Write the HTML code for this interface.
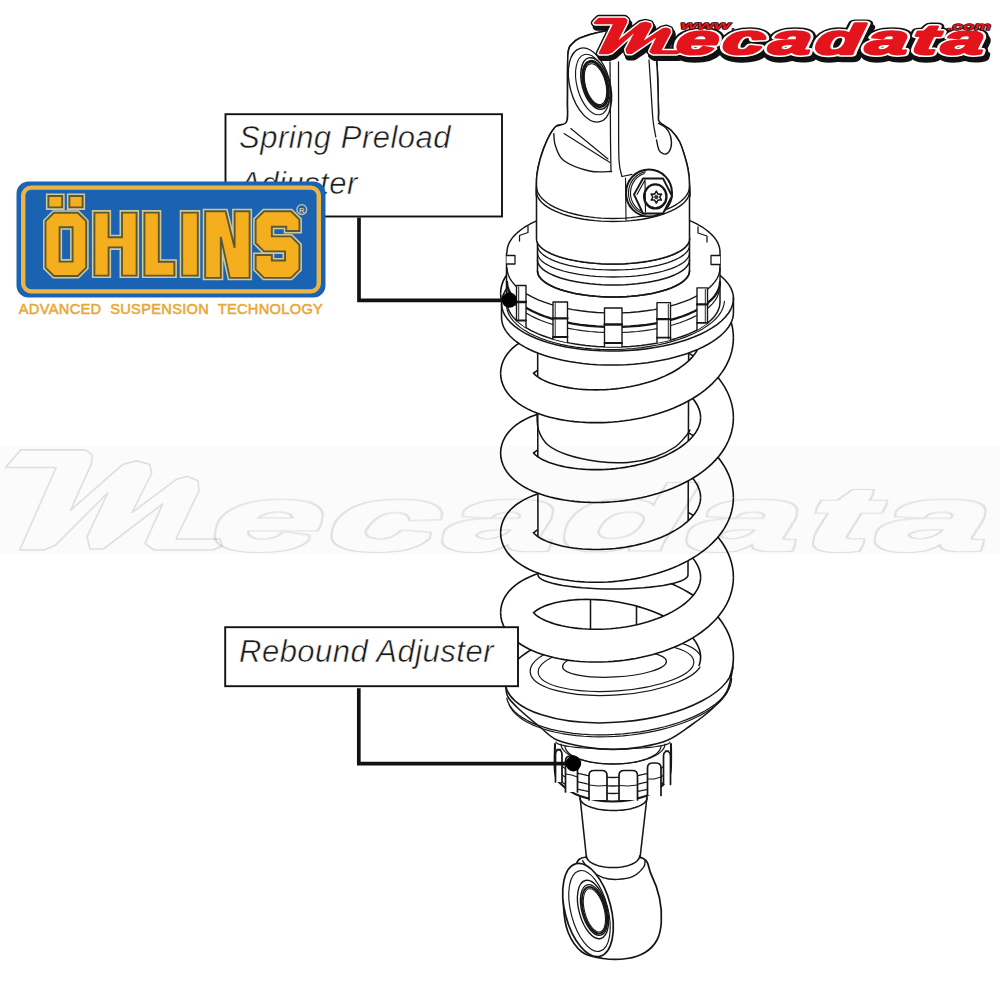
<!DOCTYPE html>
<html><head><meta charset="utf-8"><style>
html,body{margin:0;padding:0;background:#fff;width:1000px;height:1000px;overflow:hidden}
svg{display:block}
</style></head><body>
<svg width="1000" height="1000" viewBox="0 0 1000 1000">
<defs><g id="mecaG" font-family="Liberation Sans, sans-serif" font-weight="bold" font-style="italic">
<path d="M595.05,22.93 L614.73,22.93 L599.95,53.07 L607.67,53.07 L611.73,51.61 L635.61,30.18 L636.52,30.88 L626.67,49.59 L627.52,52.7 L631.69,52.7 L658.38,34.48 L658.84,34.88 L650.55,51.44 L653.02,53.07 L676.45,53.07 L678.86,52.11 L678.65,51.45 L659.62,51.45 L669.74,32.33 L669.46,29.82 L666.04,28.6 L662.12,29.65 L641.54,43.51 L640.99,43 L650.47,25.98 L649.9,23.93 L645.49,22.94 L640.65,24.03 L616.68,42.86 L616.01,42.31 L625.97,22.56 L626.29,20.24 L624.5,18.89 L598.98,18.89 L595.05,22.93 Z"/>
<g transform="translate(675,54.2) skewX(-8) scale(1.80,1)"><text x="0" y="0" font-size="42" letter-spacing="2.4">ecadata</text></g>
</g></defs>
<g id="shock">
<path d="M586.5,857 C575.75,858.5 578.42,861.83 575,866 C571.58,870.17 567.92,875.5 566,882 C564.08,888.5 563.17,896.67 563.5,905 C563.83,913.33 564.92,924.17 568,932 C571.08,939.83 576.17,947.58 582,952 C587.83,956.42 595.5,957.42 603,958.5 C610.5,959.58 620,959.5 627,958.5 C634,957.5 640,955.58 645,952.5 C650,949.42 654.28,945.08 657,940 C659.72,934.92 660.88,929 661.3,922 C661.72,915 661.22,906 659.5,898 C657.78,890 654.33,880.83 651,874 C647.67,867.17 650.25,859.83 639.5,857 C628.75,854.17 597.25,855.5 586.5,857 Z" fill="#fff" stroke="#161616" stroke-width="1.72" stroke-linejoin="round" stroke-linecap="round" />
<path d="M582.6,860.8 C583.83,862.33 586.6,867.2 590,870 C593.4,872.8 598.43,876.03 603,877.6 C607.57,879.17 612.4,879.6 617.4,879.4 C622.4,879.2 628.6,878.5 633,876.4 C637.4,874.3 641.8,869.53 643.8,866.8 C645.8,864.07 644.8,861.13 645,860" fill="none" stroke="#161616" stroke-width="1.38" stroke-linejoin="round" stroke-linecap="round" />
<ellipse cx="588" cy="910" rx="23" ry="47.8" fill="#fff" stroke="#161616" stroke-width="1.72" transform="rotate(-14.6 588 910)"/>
<ellipse cx="589.5" cy="911" rx="18.5" ry="41.5" fill="none" stroke="#161616" stroke-width="1.15" transform="rotate(-14.6 589.5 911)"/>
<ellipse cx="593" cy="909.5" rx="14" ry="30" fill="#fff" stroke="#161616" stroke-width="1.38" transform="rotate(-15 593 909.5)"/>
<ellipse cx="594" cy="910" rx="12.2" ry="26" fill="none" stroke="#161616" stroke-width="1.38" transform="rotate(-15 594 910)"/>
<ellipse cx="594.2" cy="910.2" rx="11.0" ry="24" fill="none" stroke="#161616" stroke-width="1.84" transform="rotate(-15 594.2 910.2)"/>
<ellipse cx="594.4" cy="910.4" rx="9.8" ry="22.3" fill="none" stroke="#161616" stroke-width="1.03" transform="rotate(-15 594.4 910.4)"/>
<path d="M580,797 L647,797 L640,858 L586.5,858 Z" fill="#fff" stroke="none" stroke-width="1.55" stroke-linejoin="round" stroke-linecap="round" />
<path d="M580,797 L586.5,858" fill="none" stroke="#161616" stroke-width="1.55" stroke-linejoin="round" stroke-linecap="round" />
<path d="M647,797 L640,858" fill="none" stroke="#161616" stroke-width="1.55" stroke-linejoin="round" stroke-linecap="round" />
<path d="M647,798 L646.9,798.98 L646.59,799.96 L646.07,800.92 L645.36,801.86 L644.45,802.78 L643.35,803.67 L642.06,804.53 L640.6,805.35 L638.97,806.12 L637.19,806.84 L635.26,807.51 L633.19,808.11 L631,808.66 L628.71,809.14 L626.32,809.55 L623.85,809.89 L621.32,810.15 L618.74,810.35 L616.13,810.46 L613.5,810.5 L610.87,810.46 L608.26,810.35 L605.68,810.15 L603.15,809.89 L600.68,809.55 L598.29,809.14 L596,808.66 L593.81,808.11 L591.74,807.51 L589.81,806.84 L588.03,806.12 L586.4,805.35 L584.94,804.53 L583.65,803.67 L582.55,802.78 L581.64,801.86 L580.93,800.92 L580.41,799.96 L580.1,798.98 L580,798" fill="none" stroke="#161616" stroke-width="1.55" stroke-linejoin="round" stroke-linecap="round" />
<path d="M639.5,856 L639.42,856.91 L639.17,857.81 L638.77,858.71 L638.2,859.58 L637.48,860.44 L636.61,861.27 L635.59,862.06 L634.44,862.82 L633.15,863.53 L631.74,864.2 L630.21,864.82 L628.58,865.38 L626.85,865.89 L625.03,866.34 L623.14,866.72 L621.19,867.03 L619.19,867.28 L617.15,867.46 L615.08,867.56 L613,867.6 L610.92,867.56 L608.85,867.46 L606.81,867.28 L604.81,867.03 L602.86,866.72 L600.97,866.34 L599.15,865.89 L597.42,865.38 L595.79,864.82 L594.26,864.2 L592.85,863.53 L591.56,862.82 L590.41,862.06 L589.39,861.27 L588.52,860.44 L587.8,859.58 L587.23,858.71 L586.83,857.81 L586.58,856.91 L586.5,856" fill="none" stroke="#161616" stroke-width="1.55" stroke-linejoin="round" stroke-linecap="round" />
<path d="M555,744 C555,748.67 554.1,765.42 555,772 C555.9,778.58 556.23,779.5 560.4,783.5 C564.57,787.5 571.32,793 580,796 C588.68,799 601.5,801.5 612.5,801.5 C623.5,801.5 637.33,799 646,796 C654.67,793 660.42,787.5 664.5,783.5 C668.58,779.5 669.42,778.58 670.5,772 C671.58,765.42 670.92,748.67 671,744" fill="#fff" stroke="#161616" stroke-width="2.07" stroke-linejoin="round" stroke-linecap="round" />
<path d="M670.5,757 L670.32,758.61 L669.79,760.21 L668.91,761.79 L667.69,763.33 L666.12,764.85 L664.23,766.31 L662.03,767.71 L659.52,769.05 L656.72,770.31 L653.66,771.5 L650.34,772.59 L646.8,773.58 L643.04,774.48 L639.1,775.27 L635,775.94 L630.77,776.5 L626.42,776.93 L621.99,777.25 L617.51,777.44 L613,777.5 L608.49,777.44 L604.01,777.25 L599.58,776.93 L595.23,776.5 L591,775.94 L586.9,775.27 L582.96,774.48 L579.2,773.58 L575.66,772.59 L572.34,771.5 L569.28,770.31 L566.48,769.05 L563.97,767.71 L561.77,766.31 L559.88,764.85 L558.31,763.33 L557.09,761.79 L556.21,760.21 L555.68,758.61 L555.5,757" fill="none" stroke="#161616" stroke-width="1.26" stroke-linejoin="round" stroke-linecap="round" />
<path d="M670.5,765.5 L670.32,767.11 L669.79,768.71 L668.91,770.29 L667.69,771.83 L666.12,773.35 L664.23,774.81 L662.03,776.21 L659.52,777.55 L656.72,778.81 L653.66,780 L650.34,781.09 L646.8,782.08 L643.04,782.98 L639.1,783.77 L635,784.44 L630.77,785 L626.42,785.43 L621.99,785.75 L617.51,785.94 L613,786 L608.49,785.94 L604.01,785.75 L599.58,785.43 L595.23,785 L591,784.44 L586.9,783.77 L582.96,782.98 L579.2,782.08 L575.66,781.09 L572.34,780 L569.28,778.81 L566.48,777.55 L563.97,776.21 L561.77,774.81 L559.88,773.35 L558.31,771.83 L557.09,770.29 L556.21,768.71 L555.68,767.11 L555.5,765.5" fill="none" stroke="#161616" stroke-width="1.26" stroke-linejoin="round" stroke-linecap="round" />
<path d="M670.28,774.33 L669.75,775.88 L668.91,777.4 L667.76,778.9 L666.31,780.37 L664.57,781.79 L662.54,783.16 L660.24,784.47 L657.69,785.72 L654.88,786.89 L651.85,787.98 L648.6,788.99 L645.15,789.91 L641.53,790.73 L637.75,791.45 L633.84,792.07 L629.81,792.58 L625.69,792.98 L621.5,793.27 L617.26,793.44 L613,793.5 L608.74,793.44 L604.5,793.27 L600.31,792.98 L596.19,792.58 L592.16,792.07 L588.25,791.45 L584.47,790.73 L580.85,789.91 L577.4,788.99 L574.15,787.98 L571.12,786.89 L568.31,785.72 L565.76,784.47 L563.46,783.16 L561.43,781.79 L559.69,780.37 L558.24,778.9 L557.09,777.4 L556.25,775.88 L555.72,774.33" fill="none" stroke="#161616" stroke-width="1.26" stroke-linejoin="round" stroke-linecap="round" />
<path d="M589,800 L589,775.5 Q589,770.5 594,770.5 L602,770.5 Q607,770.5 607,775.5 L607,800 Z" fill="#fff" stroke="none" stroke-width="1.55" stroke-linejoin="round" stroke-linecap="round" /><path d="M589,800 L589,775.5 Q589,770.5 594,770.5 L602,770.5 Q607,770.5 607,775.5 L607,800" fill="none" stroke="#161616" stroke-width="1.72" stroke-linejoin="round" stroke-linecap="round" /><path d="M589,785 L598,786 L607,785.5" fill="none" stroke="#161616" stroke-width="1.15" stroke-linejoin="round" stroke-linecap="round" />
<path d="M619,800 L619,775.5 Q619,770.5 624,770.5 L632.5,770.5 Q637.5,770.5 637.5,775.5 L637.5,800 Z" fill="#fff" stroke="none" stroke-width="1.55" stroke-linejoin="round" stroke-linecap="round" /><path d="M619,800 L619,775.5 Q619,770.5 624,770.5 L632.5,770.5 Q637.5,770.5 637.5,775.5 L637.5,800" fill="none" stroke="#161616" stroke-width="1.72" stroke-linejoin="round" stroke-linecap="round" /><path d="M619,785.5 L628.25,786 L637.5,785" fill="none" stroke="#161616" stroke-width="1.15" stroke-linejoin="round" stroke-linecap="round" />
<path d="M647.5,795.5 L647.5,768 Q647.5,763 652.5,763 L656,763 Q661,763 661,768 L661,795.5 Z" fill="#fff" stroke="none" stroke-width="1.55" stroke-linejoin="round" stroke-linecap="round" /><path d="M647.5,795.5 L647.5,768 Q647.5,763 652.5,763 L656,763 Q661,763 661,768 L661,795.5" fill="none" stroke="#161616" stroke-width="1.72" stroke-linejoin="round" stroke-linecap="round" /><path d="M647.5,779 L654.25,779 L661,777" fill="none" stroke="#161616" stroke-width="1.15" stroke-linejoin="round" stroke-linecap="round" />
<path d="M663.5,784.5 L663.5,756 Q663.5,751 668.5,751 L665.5,751 Q670.5,751 670.5,756 L670.5,784.5 Z" fill="#fff" stroke="none" stroke-width="1.55" stroke-linejoin="round" stroke-linecap="round" /><path d="M663.5,784.5 L663.5,756 Q663.5,751 668.5,751 L665.5,751 Q670.5,751 670.5,756 L670.5,784.5" fill="none" stroke="#161616" stroke-width="1.72" stroke-linejoin="round" stroke-linecap="round" />
<path d="M555.5,782 L555.5,754.5 Q555.5,749.5 560.5,749.5 L557,749.5 Q562,749.5 562,754.5 L562,782 Z" fill="#fff" stroke="none" stroke-width="1.55" stroke-linejoin="round" stroke-linecap="round" /><path d="M555.5,782 L555.5,754.5 Q555.5,749.5 560.5,749.5 L557,749.5 Q562,749.5 562,754.5 L562,782" fill="none" stroke="#161616" stroke-width="1.72" stroke-linejoin="round" stroke-linecap="round" />
<path d="M565.5,792 L565.5,761 Q565.5,756 570.5,756 L572.5,756 Q577.5,756 577.5,761 L577.5,792 Z" fill="#fff" stroke="none" stroke-width="1.55" stroke-linejoin="round" stroke-linecap="round" /><path d="M565.5,792 L565.5,761 Q565.5,756 570.5,756 L572.5,756 Q577.5,756 577.5,761 L577.5,792" fill="none" stroke="#161616" stroke-width="1.72" stroke-linejoin="round" stroke-linecap="round" /><path d="M565.5,774 L571.5,775 L577.5,777" fill="none" stroke="#161616" stroke-width="1.15" stroke-linejoin="round" stroke-linecap="round" />
<path d="M661,746 L660.85,747.41 L660.41,748.82 L659.67,750.2 L658.65,751.56 L657.35,752.89 L655.77,754.17 L653.93,755.4 L651.83,756.58 L649.5,757.69 L646.94,758.73 L644.17,759.69 L641.21,760.56 L638.08,761.35 L634.79,762.04 L631.37,762.63 L627.83,763.12 L624.21,763.5 L620.51,763.78 L616.77,763.94 L613,764 L609.23,763.94 L605.49,763.78 L601.79,763.5 L598.17,763.12 L594.63,762.63 L591.21,762.04 L587.92,761.35 L584.79,760.56 L581.83,759.69 L579.06,758.73 L576.5,757.69 L574.17,756.58 L572.07,755.4 L570.23,754.17 L568.65,752.89 L567.35,751.56 L566.33,750.2 L565.59,748.82 L565.15,747.41 L565,746" fill="none" stroke="#161616" stroke-width="1.26" stroke-linejoin="round" stroke-linecap="round" />
<path d="M665,744 L664.84,745.57 L664.36,747.13 L663.56,748.67 L662.45,750.18 L661.04,751.65 L659.33,753.08 L657.34,754.45 L655.07,755.76 L652.54,756.99 L649.77,758.14 L646.77,759.21 L643.56,760.18 L640.17,761.05 L636.61,761.82 L632.9,762.48 L629.07,763.02 L625.14,763.45 L621.13,763.75 L617.08,763.94 L613,764 L608.92,763.94 L604.87,763.75 L600.86,763.45 L596.93,763.02 L593.1,762.48 L589.39,761.82 L585.83,761.05 L582.44,760.18 L579.23,759.21 L576.23,758.14 L573.46,756.99 L570.93,755.76 L568.66,754.45 L566.67,753.08 L564.96,751.65 L563.55,750.18 L562.44,748.67 L561.64,747.13 L561.16,745.57 L561,744" fill="none" stroke="#161616" stroke-width="1.15" stroke-linejoin="round" stroke-linecap="round" />
<path d="M505.5,684 C505.92,686.17 505.58,692.67 508,697 C510.42,701.33 514.67,705 520,710 C525.33,715 533.83,722 540,727 C546.17,732 549.5,736.67 557,740 C564.5,743.33 575.67,745.42 585,747 C594.33,748.58 603.67,749.5 613,749.5 C622.33,749.5 631.83,748.58 641,747 C650.17,745.42 659.83,743.5 668,740 C676.17,736.5 682.67,731.17 690,726 C697.33,720.83 705.83,714.83 712,709 C718.17,703.17 723.5,698 727,691 C730.5,684 732,671 733,667" fill="#fff" stroke="#161616" stroke-width="1.55" stroke-linejoin="round" stroke-linecap="round" />
<path d="M670,742 L669.82,742.55 L669.3,743.1 L668.43,743.63 L667.21,744.16 L665.66,744.68 L663.79,745.18 L661.6,745.66 L659.11,746.11 L656.34,746.55 L653.31,746.95 L650.02,747.32 L646.5,747.66 L642.78,747.97 L638.88,748.24 L634.81,748.47 L630.61,748.66 L626.31,748.81 L621.92,748.91 L617.47,748.98 L613,749 L608.53,748.98 L604.08,748.91 L599.69,748.81 L595.39,748.66 L591.19,748.47 L587.12,748.24 L583.22,747.97 L579.5,747.66 L575.98,747.32 L572.69,746.95 L569.66,746.55 L566.89,746.11 L564.4,745.66 L562.21,745.18 L560.34,744.68 L558.79,744.16 L557.57,743.63 L556.7,743.1 L556.18,742.55 L556,742" fill="none" stroke="#161616" stroke-width="1.15" stroke-linejoin="round" stroke-linecap="round" />
<path d="M731.63,678.67 L731.18,682.35 L730.08,686.05 L728.34,689.76 L725.97,693.44 L722.98,697.08 L719.4,700.65 L715.23,704.14 L710.51,707.53 L705.27,710.79 L699.52,713.91 L693.32,716.86 L686.68,719.64 L679.66,722.23 L672.28,724.61 L664.6,726.76 L656.66,728.68 L648.49,730.36 L640.16,731.78 L631.71,732.93 L623.18,733.82 L614.63,734.43 L606.11,734.76 L597.66,734.81 L589.33,734.57 L581.17,734.06 L573.23,733.27 L565.56,732.21 L558.19,730.89 L551.17,729.3 L544.55,727.46 L538.35,725.39 L532.62,723.09 L527.38,720.57 L522.67,717.86 L518.52,714.96 L514.95,711.9 L511.97,708.69 L509.62,705.34 L507.89,701.88 L506.8,698.34" fill="none" stroke="#161616" stroke-width="1.26" stroke-linejoin="round" stroke-linecap="round" />
<path d="M730.06,685.42 L728.96,688.87 L727.3,692.33 L725.08,695.76 L722.32,699.16 L719.03,702.5 L715.23,705.77 L710.93,708.95 L706.17,712.03 L700.95,714.99 L695.32,717.81 L689.3,720.48 L682.92,722.99 L676.21,725.32 L669.21,727.46 L661.95,729.4 L654.47,731.14 L646.81,732.65 L639.01,733.94 L631.11,735 L623.14,735.82 L615.15,736.4 L607.18,736.73 L599.28,736.81 L591.47,736.65 L583.8,736.24 L576.32,735.59 L569.05,734.69 L562.04,733.56 L555.32,732.2 L548.93,730.62 L542.89,728.82 L537.24,726.81 L532.02,724.61 L527.23,722.22 L522.92,719.66 L519.1,716.94 L515.79,714.07 L513.01,711.08 L510.77,707.96 L509.09,704.75" fill="none" stroke="#161616" stroke-width="1.15" stroke-linejoin="round" stroke-linecap="round" />
<ellipse cx="619" cy="674" rx="114" ry="48" fill="#fff" stroke="#161616" stroke-width="1.55" transform="rotate(-5 619 674)"/>
<ellipse cx="616" cy="666" rx="86" ry="29" fill="none" stroke="#161616" stroke-width="1.26" transform="rotate(-4 616 666)"/>
<ellipse cx="616" cy="667" rx="78" ry="24" fill="none" stroke="#161616" stroke-width="1.15" transform="rotate(-4 616 667)"/>
<ellipse cx="614.5" cy="664" rx="52" ry="13" fill="none" stroke="#161616" stroke-width="1.26" transform="rotate(-3 614.5 664)"/>
<path d="M590.5,560 L590.5,632 L636.5,632 L636.5,560" fill="#fff" stroke="#161616" stroke-width="1.55" stroke-linejoin="round" stroke-linecap="round" /><path d="M636.5,585 L636.43,585.59 L636.22,586.17 L635.86,586.75 L635.37,587.32 L634.75,587.87 L633.99,588.4 L633.11,588.92 L632.11,589.41 L630.99,589.87 L629.76,590.3 L628.44,590.7 L627.02,591.07 L625.52,591.39 L623.94,591.68 L622.3,591.93 L620.61,592.13 L618.87,592.29 L617.1,592.41 L615.3,592.48 L613.5,592.5 L611.7,592.48 L609.9,592.41 L608.13,592.29 L606.39,592.13 L604.7,591.93 L603.06,591.68 L601.48,591.39 L599.98,591.07 L598.56,590.7 L597.24,590.3 L596.01,589.87 L594.89,589.41 L593.89,588.92 L593.01,588.4 L592.25,587.87 L591.63,587.32 L591.14,586.75 L590.78,586.17 L590.57,585.59 L590.5,585" fill="none" stroke="#161616" stroke-width="1.38" stroke-linejoin="round" stroke-linecap="round" />
<path d="M533.4,293.45 L533.37,293.84 L533.31,294.14 L533.27,294.26 L533.32,294.16 L533.54,293.83 L533.99,293.29 L534.71,292.58 L535.73,291.73 L537.04,290.78 L538.65,289.77 L540.56,288.73 L542.75,287.69 L545.22,286.67 L547.94,285.68 L550.91,284.75 L554.11,283.87 L557.53,283.07 L561.14,282.36 L564.94,281.73 L568.91,281.21 L573.03,280.79 L577.3,280.47 L581.69,280.27 L586.18,280.19 L590.77,280.23 L595.44,280.39 L600.17,280.67 L604.95,281.08 L609.75,281.61 L614.58,282.27 L619.4,283.05 L624.2,283.96 L628.97,284.99 L633.7,286.14 L638.36,287.41 L642.94,288.8 L647.43,290.29 L651.82,291.89 L656.08,293.6 L660.2,295.39 L664.18,297.28 L667.99,299.26 L671.62,301.3 L675.07,303.42 L678.32,305.59 L681.36,307.81 L684.19,310.07 L686.79,312.35 L689.16,314.64 L691.29,316.94 L693.19,319.22 L694.86,321.48 L696.29,323.7 L697.5,325.88 L698.49,328 L699.27,330.07 L699.87,332.08 L700.28,334.04 L700.52,335.96 L700.6,337.85 L733.4,337.85 L733.21,333.21 L732.63,328.61 L731.67,324.06 L730.36,319.59 L728.7,315.22 L726.71,310.97 L724.43,306.84 L721.85,302.85 L719.01,298.98 L715.91,295.26 L712.57,291.67 L709.01,288.22 L705.24,284.91 L701.26,281.74 L697.1,278.7 L692.75,275.79 L688.24,273.02 L683.57,270.39 L678.75,267.9 L673.8,265.55 L668.72,263.33 L663.53,261.25 L658.24,259.32 L652.86,257.53 L647.4,255.88 L641.88,254.38 L636.31,253.02 L630.71,251.81 L625.07,250.75 L619.42,249.83 L613.78,249.06 L608.15,248.43 L602.54,247.96 L596.98,247.62 L591.46,247.44 L586.01,247.39 L580.64,247.49 L575.36,247.73 L570.17,248.11 L565.09,248.63 L560.13,249.29 L555.3,250.08 L550.61,251.01 L546.06,252.08 L541.67,253.28 L537.43,254.62 L533.35,256.09 L529.44,257.72 L525.7,259.49 L522.14,261.43 L518.76,263.55 L515.56,265.85 L512.57,268.38 L509.79,271.15 L507.27,274.2 L505.05,277.53 L503.19,281.17 L501.79,285.08 L500.9,289.21 L500.6,293.45 Z" fill="#fff" stroke="none"/><path d="M533.4,293.45 L533.37,293.84 L533.31,294.14 L533.27,294.26 L533.32,294.16 L533.54,293.83 L533.99,293.29 L534.71,292.58 L535.73,291.73 L537.04,290.78 L538.65,289.77 L540.56,288.73 L542.75,287.69 L545.22,286.67 L547.94,285.68 L550.91,284.75 L554.11,283.87 L557.53,283.07 L561.14,282.36 L564.94,281.73 L568.91,281.21 L573.03,280.79 L577.3,280.47 L581.69,280.27 L586.18,280.19 L590.77,280.23 L595.44,280.39 L600.17,280.67 L604.95,281.08 L609.75,281.61 L614.58,282.27 L619.4,283.05 L624.2,283.96 L628.97,284.99 L633.7,286.14 L638.36,287.41 L642.94,288.8 L647.43,290.29 L651.82,291.89 L656.08,293.6 L660.2,295.39 L664.18,297.28 L667.99,299.26 L671.62,301.3 L675.07,303.42 L678.32,305.59 L681.36,307.81 L684.19,310.07 L686.79,312.35 L689.16,314.64 L691.29,316.94 L693.19,319.22 L694.86,321.48 L696.29,323.7 L697.5,325.88 L698.49,328 L699.27,330.07 L699.87,332.08 L700.28,334.04 L700.52,335.96 L700.6,337.85 M500.6,293.45 L500.9,289.21 L501.79,285.08 L503.19,281.17 L505.05,277.53 L507.27,274.2 L509.79,271.15 L512.57,268.38 L515.56,265.85 L518.76,263.55 L522.14,261.43 L525.7,259.49 L529.44,257.72 L533.35,256.09 L537.43,254.62 L541.67,253.28 L546.06,252.08 L550.61,251.01 L555.3,250.08 L560.13,249.29 L565.09,248.63 L570.17,248.11 L575.36,247.73 L580.64,247.49 L586.01,247.39 L591.46,247.44 L596.98,247.62 L602.54,247.96 L608.15,248.43 L613.78,249.06 L619.42,249.83 L625.07,250.75 L630.71,251.81 L636.31,253.02 L641.88,254.38 L647.4,255.88 L652.86,257.53 L658.24,259.32 L663.53,261.25 L668.72,263.33 L673.8,265.55 L678.75,267.9 L683.57,270.39 L688.24,273.02 L692.75,275.79 L697.1,278.7 L701.26,281.74 L705.24,284.91 L709.01,288.22 L712.57,291.67 L715.91,295.26 L719.01,298.98 L721.85,302.85 L724.43,306.84 L726.71,310.97 L728.7,315.22 L730.36,319.59 L731.67,324.06 L732.63,328.61 L733.21,333.21 L733.4,337.85" fill="none" stroke="#111" stroke-width="1.6"/>
<path d="M533.4,373.25 L533.37,373.64 L533.31,373.94 L533.27,374.06 L533.32,373.96 L533.54,373.63 L533.99,373.09 L534.71,372.38 L535.73,371.53 L537.04,370.58 L538.65,369.57 L540.56,368.53 L542.75,367.49 L545.22,366.47 L547.94,365.48 L550.91,364.55 L554.11,363.67 L557.53,362.87 L561.14,362.16 L564.94,361.53 L568.91,361.01 L573.03,360.59 L577.3,360.27 L581.69,360.07 L586.18,359.99 L590.77,360.03 L595.44,360.19 L600.17,360.47 L604.95,360.88 L609.75,361.41 L614.58,362.07 L619.4,362.85 L624.2,363.76 L628.97,364.79 L633.7,365.94 L638.36,367.21 L642.94,368.6 L647.43,370.09 L651.82,371.69 L656.08,373.4 L660.2,375.19 L664.18,377.08 L667.99,379.06 L671.62,381.1 L675.07,383.22 L678.32,385.39 L681.36,387.61 L684.19,389.87 L686.79,392.15 L689.16,394.44 L691.29,396.74 L693.19,399.02 L694.86,401.28 L696.29,403.5 L697.5,405.68 L698.49,407.8 L699.27,409.87 L699.87,411.88 L700.28,413.84 L700.52,415.76 L700.6,417.65 L733.4,417.65 L733.21,413.01 L732.63,408.41 L731.67,403.86 L730.36,399.39 L728.7,395.02 L726.71,390.77 L724.43,386.64 L721.85,382.65 L719.01,378.78 L715.91,375.06 L712.57,371.47 L709.01,368.02 L705.24,364.71 L701.26,361.54 L697.1,358.5 L692.75,355.59 L688.24,352.82 L683.57,350.19 L678.75,347.7 L673.8,345.35 L668.72,343.13 L663.53,341.05 L658.24,339.12 L652.86,337.33 L647.4,335.68 L641.88,334.18 L636.31,332.82 L630.71,331.61 L625.07,330.55 L619.42,329.63 L613.78,328.86 L608.15,328.23 L602.54,327.76 L596.98,327.42 L591.46,327.24 L586.01,327.19 L580.64,327.29 L575.36,327.53 L570.17,327.91 L565.09,328.43 L560.13,329.09 L555.3,329.88 L550.61,330.81 L546.06,331.88 L541.67,333.08 L537.43,334.42 L533.35,335.89 L529.44,337.52 L525.7,339.29 L522.14,341.23 L518.76,343.35 L515.56,345.65 L512.57,348.18 L509.79,350.95 L507.27,354 L505.05,357.33 L503.19,360.97 L501.79,364.88 L500.9,369.01 L500.6,373.25 Z" fill="#fff" stroke="none"/><path d="M533.4,373.25 L533.37,373.64 L533.31,373.94 L533.27,374.06 L533.32,373.96 L533.54,373.63 L533.99,373.09 L534.71,372.38 L535.73,371.53 L537.04,370.58 L538.65,369.57 L540.56,368.53 L542.75,367.49 L545.22,366.47 L547.94,365.48 L550.91,364.55 L554.11,363.67 L557.53,362.87 L561.14,362.16 L564.94,361.53 L568.91,361.01 L573.03,360.59 L577.3,360.27 L581.69,360.07 L586.18,359.99 L590.77,360.03 L595.44,360.19 L600.17,360.47 L604.95,360.88 L609.75,361.41 L614.58,362.07 L619.4,362.85 L624.2,363.76 L628.97,364.79 L633.7,365.94 L638.36,367.21 L642.94,368.6 L647.43,370.09 L651.82,371.69 L656.08,373.4 L660.2,375.19 L664.18,377.08 L667.99,379.06 L671.62,381.1 L675.07,383.22 L678.32,385.39 L681.36,387.61 L684.19,389.87 L686.79,392.15 L689.16,394.44 L691.29,396.74 L693.19,399.02 L694.86,401.28 L696.29,403.5 L697.5,405.68 L698.49,407.8 L699.27,409.87 L699.87,411.88 L700.28,413.84 L700.52,415.76 L700.6,417.65 M500.6,373.25 L500.9,369.01 L501.79,364.88 L503.19,360.97 L505.05,357.33 L507.27,354 L509.79,350.95 L512.57,348.18 L515.56,345.65 L518.76,343.35 L522.14,341.23 L525.7,339.29 L529.44,337.52 L533.35,335.89 L537.43,334.42 L541.67,333.08 L546.06,331.88 L550.61,330.81 L555.3,329.88 L560.13,329.09 L565.09,328.43 L570.17,327.91 L575.36,327.53 L580.64,327.29 L586.01,327.19 L591.46,327.24 L596.98,327.42 L602.54,327.76 L608.15,328.23 L613.78,328.86 L619.42,329.63 L625.07,330.55 L630.71,331.61 L636.31,332.82 L641.88,334.18 L647.4,335.68 L652.86,337.33 L658.24,339.12 L663.53,341.05 L668.72,343.13 L673.8,345.35 L678.75,347.7 L683.57,350.19 L688.24,352.82 L692.75,355.59 L697.1,358.5 L701.26,361.54 L705.24,364.71 L709.01,368.02 L712.57,371.47 L715.91,375.06 L719.01,378.78 L721.85,382.65 L724.43,386.64 L726.71,390.77 L728.7,395.02 L730.36,399.39 L731.67,403.86 L732.63,408.41 L733.21,413.01 L733.4,417.65" fill="none" stroke="#111" stroke-width="1.6"/>
<path d="M533.4,453.05 L533.37,453.44 L533.31,453.74 L533.27,453.86 L533.32,453.76 L533.54,453.43 L533.99,452.89 L534.71,452.18 L535.73,451.33 L537.04,450.38 L538.65,449.37 L540.56,448.33 L542.75,447.29 L545.22,446.27 L547.94,445.28 L550.91,444.35 L554.11,443.47 L557.53,442.67 L561.14,441.96 L564.94,441.33 L568.91,440.81 L573.03,440.39 L577.3,440.07 L581.69,439.87 L586.18,439.79 L590.77,439.83 L595.44,439.99 L600.17,440.27 L604.95,440.68 L609.75,441.21 L614.58,441.87 L619.4,442.65 L624.2,443.56 L628.97,444.59 L633.7,445.74 L638.36,447.01 L642.94,448.4 L647.43,449.89 L651.82,451.49 L656.08,453.2 L660.2,454.99 L664.18,456.88 L667.99,458.86 L671.62,460.9 L675.07,463.02 L678.32,465.19 L681.36,467.41 L684.19,469.67 L686.79,471.95 L689.16,474.24 L691.29,476.54 L693.19,478.82 L694.86,481.08 L696.29,483.3 L697.5,485.48 L698.49,487.6 L699.27,489.67 L699.87,491.68 L700.28,493.64 L700.52,495.56 L700.6,497.45 L733.4,497.45 L733.21,492.81 L732.63,488.21 L731.67,483.66 L730.36,479.19 L728.7,474.82 L726.71,470.57 L724.43,466.44 L721.85,462.45 L719.01,458.58 L715.91,454.86 L712.57,451.27 L709.01,447.82 L705.24,444.51 L701.26,441.34 L697.1,438.3 L692.75,435.39 L688.24,432.62 L683.57,429.99 L678.75,427.5 L673.8,425.15 L668.72,422.93 L663.53,420.85 L658.24,418.92 L652.86,417.13 L647.4,415.48 L641.88,413.98 L636.31,412.62 L630.71,411.41 L625.07,410.35 L619.42,409.43 L613.78,408.66 L608.15,408.03 L602.54,407.56 L596.98,407.22 L591.46,407.04 L586.01,406.99 L580.64,407.09 L575.36,407.33 L570.17,407.71 L565.09,408.23 L560.13,408.89 L555.3,409.68 L550.61,410.61 L546.06,411.68 L541.67,412.88 L537.43,414.22 L533.35,415.69 L529.44,417.32 L525.7,419.09 L522.14,421.03 L518.76,423.15 L515.56,425.45 L512.57,427.98 L509.79,430.75 L507.27,433.8 L505.05,437.13 L503.19,440.77 L501.79,444.68 L500.9,448.81 L500.6,453.05 Z" fill="#fff" stroke="none"/><path d="M533.4,453.05 L533.37,453.44 L533.31,453.74 L533.27,453.86 L533.32,453.76 L533.54,453.43 L533.99,452.89 L534.71,452.18 L535.73,451.33 L537.04,450.38 L538.65,449.37 L540.56,448.33 L542.75,447.29 L545.22,446.27 L547.94,445.28 L550.91,444.35 L554.11,443.47 L557.53,442.67 L561.14,441.96 L564.94,441.33 L568.91,440.81 L573.03,440.39 L577.3,440.07 L581.69,439.87 L586.18,439.79 L590.77,439.83 L595.44,439.99 L600.17,440.27 L604.95,440.68 L609.75,441.21 L614.58,441.87 L619.4,442.65 L624.2,443.56 L628.97,444.59 L633.7,445.74 L638.36,447.01 L642.94,448.4 L647.43,449.89 L651.82,451.49 L656.08,453.2 L660.2,454.99 L664.18,456.88 L667.99,458.86 L671.62,460.9 L675.07,463.02 L678.32,465.19 L681.36,467.41 L684.19,469.67 L686.79,471.95 L689.16,474.24 L691.29,476.54 L693.19,478.82 L694.86,481.08 L696.29,483.3 L697.5,485.48 L698.49,487.6 L699.27,489.67 L699.87,491.68 L700.28,493.64 L700.52,495.56 L700.6,497.45 M500.6,453.05 L500.9,448.81 L501.79,444.68 L503.19,440.77 L505.05,437.13 L507.27,433.8 L509.79,430.75 L512.57,427.98 L515.56,425.45 L518.76,423.15 L522.14,421.03 L525.7,419.09 L529.44,417.32 L533.35,415.69 L537.43,414.22 L541.67,412.88 L546.06,411.68 L550.61,410.61 L555.3,409.68 L560.13,408.89 L565.09,408.23 L570.17,407.71 L575.36,407.33 L580.64,407.09 L586.01,406.99 L591.46,407.04 L596.98,407.22 L602.54,407.56 L608.15,408.03 L613.78,408.66 L619.42,409.43 L625.07,410.35 L630.71,411.41 L636.31,412.62 L641.88,413.98 L647.4,415.48 L652.86,417.13 L658.24,418.92 L663.53,420.85 L668.72,422.93 L673.8,425.15 L678.75,427.5 L683.57,429.99 L688.24,432.62 L692.75,435.39 L697.1,438.3 L701.26,441.34 L705.24,444.51 L709.01,447.82 L712.57,451.27 L715.91,454.86 L719.01,458.58 L721.85,462.45 L724.43,466.44 L726.71,470.57 L728.7,474.82 L730.36,479.19 L731.67,483.66 L732.63,488.21 L733.21,492.81 L733.4,497.45" fill="none" stroke="#111" stroke-width="1.6"/>
<path d="M533.4,532.85 L533.37,533.24 L533.31,533.54 L533.27,533.66 L533.32,533.56 L533.54,533.23 L533.99,532.69 L534.71,531.98 L535.73,531.13 L537.04,530.18 L538.65,529.17 L540.56,528.13 L542.75,527.09 L545.22,526.07 L547.94,525.08 L550.91,524.15 L554.11,523.27 L557.53,522.47 L561.14,521.76 L564.94,521.13 L568.91,520.61 L573.03,520.19 L577.3,519.87 L581.69,519.67 L586.18,519.59 L590.77,519.63 L595.44,519.79 L600.17,520.07 L604.95,520.48 L609.75,521.01 L614.58,521.67 L619.4,522.45 L624.2,523.36 L628.97,524.39 L633.7,525.54 L638.36,526.81 L642.94,528.2 L647.43,529.69 L651.82,531.29 L656.08,533 L660.2,534.79 L664.18,536.68 L667.99,538.66 L671.62,540.7 L675.07,542.82 L678.32,544.99 L681.36,547.21 L684.19,549.47 L686.79,551.75 L689.16,554.04 L691.29,556.34 L693.19,558.62 L694.86,560.88 L696.29,563.1 L697.5,565.28 L698.49,567.4 L699.27,569.47 L699.87,571.48 L700.28,573.44 L700.52,575.36 L700.6,577.25 L733.4,577.25 L733.21,572.61 L732.63,568.01 L731.67,563.46 L730.36,558.99 L728.7,554.62 L726.71,550.37 L724.43,546.24 L721.85,542.25 L719.01,538.38 L715.91,534.66 L712.57,531.07 L709.01,527.62 L705.24,524.31 L701.26,521.14 L697.1,518.1 L692.75,515.19 L688.24,512.42 L683.57,509.79 L678.75,507.3 L673.8,504.95 L668.72,502.73 L663.53,500.65 L658.24,498.72 L652.86,496.93 L647.4,495.28 L641.88,493.78 L636.31,492.42 L630.71,491.21 L625.07,490.15 L619.42,489.23 L613.78,488.46 L608.15,487.83 L602.54,487.36 L596.98,487.02 L591.46,486.84 L586.01,486.79 L580.64,486.89 L575.36,487.13 L570.17,487.51 L565.09,488.03 L560.13,488.69 L555.3,489.48 L550.61,490.41 L546.06,491.48 L541.67,492.68 L537.43,494.02 L533.35,495.49 L529.44,497.12 L525.7,498.89 L522.14,500.83 L518.76,502.95 L515.56,505.25 L512.57,507.78 L509.79,510.55 L507.27,513.6 L505.05,516.93 L503.19,520.57 L501.79,524.48 L500.9,528.61 L500.6,532.85 Z" fill="#fff" stroke="none"/><path d="M533.4,532.85 L533.37,533.24 L533.31,533.54 L533.27,533.66 L533.32,533.56 L533.54,533.23 L533.99,532.69 L534.71,531.98 L535.73,531.13 L537.04,530.18 L538.65,529.17 L540.56,528.13 L542.75,527.09 L545.22,526.07 L547.94,525.08 L550.91,524.15 L554.11,523.27 L557.53,522.47 L561.14,521.76 L564.94,521.13 L568.91,520.61 L573.03,520.19 L577.3,519.87 L581.69,519.67 L586.18,519.59 L590.77,519.63 L595.44,519.79 L600.17,520.07 L604.95,520.48 L609.75,521.01 L614.58,521.67 L619.4,522.45 L624.2,523.36 L628.97,524.39 L633.7,525.54 L638.36,526.81 L642.94,528.2 L647.43,529.69 L651.82,531.29 L656.08,533 L660.2,534.79 L664.18,536.68 L667.99,538.66 L671.62,540.7 L675.07,542.82 L678.32,544.99 L681.36,547.21 L684.19,549.47 L686.79,551.75 L689.16,554.04 L691.29,556.34 L693.19,558.62 L694.86,560.88 L696.29,563.1 L697.5,565.28 L698.49,567.4 L699.27,569.47 L699.87,571.48 L700.28,573.44 L700.52,575.36 L700.6,577.25 M500.6,532.85 L500.9,528.61 L501.79,524.48 L503.19,520.57 L505.05,516.93 L507.27,513.6 L509.79,510.55 L512.57,507.78 L515.56,505.25 L518.76,502.95 L522.14,500.83 L525.7,498.89 L529.44,497.12 L533.35,495.49 L537.43,494.02 L541.67,492.68 L546.06,491.48 L550.61,490.41 L555.3,489.48 L560.13,488.69 L565.09,488.03 L570.17,487.51 L575.36,487.13 L580.64,486.89 L586.01,486.79 L591.46,486.84 L596.98,487.02 L602.54,487.36 L608.15,487.83 L613.78,488.46 L619.42,489.23 L625.07,490.15 L630.71,491.21 L636.31,492.42 L641.88,493.78 L647.4,495.28 L652.86,496.93 L658.24,498.72 L663.53,500.65 L668.72,502.73 L673.8,504.95 L678.75,507.3 L683.57,509.79 L688.24,512.42 L692.75,515.19 L697.1,518.1 L701.26,521.14 L705.24,524.31 L709.01,527.62 L712.57,531.07 L715.91,534.66 L719.01,538.38 L721.85,542.25 L724.43,546.24 L726.71,550.37 L728.7,554.62 L730.36,558.99 L731.67,563.46 L732.63,568.01 L733.21,572.61 L733.4,577.25" fill="none" stroke="#111" stroke-width="1.6"/>
<path d="M533.4,612.65 L533.37,613.04 L533.31,613.34 L533.27,613.46 L533.32,613.36 L533.54,613.03 L533.99,612.49 L534.71,611.78 L535.73,610.93 L537.04,609.98 L538.65,608.97 L540.56,607.93 L542.75,606.89 L545.22,605.87 L547.94,604.88 L550.91,603.95 L554.11,603.07 L557.53,602.27 L561.14,601.56 L564.94,600.93 L568.91,600.41 L573.03,599.99 L577.3,599.67 L581.69,599.47 L586.18,599.39 L590.77,599.43 L595.44,599.59 L600.17,599.87 L604.95,600.28 L609.75,600.81 L614.58,601.47 L619.4,602.25 L624.2,603.16 L628.97,604.19 L633.7,605.34 L638.36,606.61 L642.94,608 L647.43,609.49 L651.82,611.09 L656.08,612.8 L660.2,614.59 L664.18,616.48 L667.99,618.46 L671.62,620.5 L675.07,622.62 L678.32,624.79 L681.36,627.01 L684.19,629.27 L686.79,631.55 L689.16,633.84 L691.29,636.14 L693.19,638.42 L694.86,640.68 L696.29,642.9 L697.5,645.08 L698.49,647.2 L699.27,649.27 L699.87,651.28 L700.28,653.24 L700.52,655.16 L700.6,657.05 L733.4,657.05 L733.21,652.41 L732.63,647.81 L731.67,643.26 L730.36,638.79 L728.7,634.42 L726.71,630.17 L724.43,626.04 L721.85,622.05 L719.01,618.18 L715.91,614.46 L712.57,610.87 L709.01,607.42 L705.24,604.11 L701.26,600.94 L697.1,597.9 L692.75,594.99 L688.24,592.22 L683.57,589.59 L678.75,587.1 L673.8,584.75 L668.72,582.53 L663.53,580.45 L658.24,578.52 L652.86,576.73 L647.4,575.08 L641.88,573.58 L636.31,572.22 L630.71,571.01 L625.07,569.95 L619.42,569.03 L613.78,568.26 L608.15,567.63 L602.54,567.16 L596.98,566.82 L591.46,566.64 L586.01,566.59 L580.64,566.69 L575.36,566.93 L570.17,567.31 L565.09,567.83 L560.13,568.49 L555.3,569.28 L550.61,570.21 L546.06,571.28 L541.67,572.48 L537.43,573.82 L533.35,575.29 L529.44,576.92 L525.7,578.69 L522.14,580.63 L518.76,582.75 L515.56,585.05 L512.57,587.58 L509.79,590.35 L507.27,593.4 L505.05,596.73 L503.19,600.37 L501.79,604.28 L500.9,608.41 L500.6,612.65 Z" fill="#fff" stroke="none"/><path d="M533.4,612.65 L533.37,613.04 L533.31,613.34 L533.27,613.46 L533.32,613.36 L533.54,613.03 L533.99,612.49 L534.71,611.78 L535.73,610.93 L537.04,609.98 L538.65,608.97 L540.56,607.93 L542.75,606.89 L545.22,605.87 L547.94,604.88 L550.91,603.95 L554.11,603.07 L557.53,602.27 L561.14,601.56 L564.94,600.93 L568.91,600.41 L573.03,599.99 L577.3,599.67 L581.69,599.47 L586.18,599.39 L590.77,599.43 L595.44,599.59 L600.17,599.87 L604.95,600.28 L609.75,600.81 L614.58,601.47 L619.4,602.25 L624.2,603.16 L628.97,604.19 L633.7,605.34 L638.36,606.61 L642.94,608 L647.43,609.49 L651.82,611.09 L656.08,612.8 L660.2,614.59 L664.18,616.48 L667.99,618.46 L671.62,620.5 L675.07,622.62 L678.32,624.79 L681.36,627.01 L684.19,629.27 L686.79,631.55 L689.16,633.84 L691.29,636.14 L693.19,638.42 L694.86,640.68 L696.29,642.9 L697.5,645.08 L698.49,647.2 L699.27,649.27 L699.87,651.28 L700.28,653.24 L700.52,655.16 L700.6,657.05 M500.6,612.65 L500.9,608.41 L501.79,604.28 L503.19,600.37 L505.05,596.73 L507.27,593.4 L509.79,590.35 L512.57,587.58 L515.56,585.05 L518.76,582.75 L522.14,580.63 L525.7,578.69 L529.44,576.92 L533.35,575.29 L537.43,573.82 L541.67,572.48 L546.06,571.28 L550.61,570.21 L555.3,569.28 L560.13,568.49 L565.09,567.83 L570.17,567.31 L575.36,566.93 L580.64,566.69 L586.01,566.59 L591.46,566.64 L596.98,566.82 L602.54,567.16 L608.15,567.63 L613.78,568.26 L619.42,569.03 L625.07,569.95 L630.71,571.01 L636.31,572.22 L641.88,573.58 L647.4,575.08 L652.86,576.73 L658.24,578.52 L663.53,580.45 L668.72,582.53 L673.8,584.75 L678.75,587.1 L683.57,589.59 L688.24,592.22 L692.75,594.99 L697.1,597.9 L701.26,600.94 L705.24,604.11 L709.01,607.42 L712.57,610.87 L715.91,614.46 L719.01,618.18 L721.85,622.05 L724.43,626.04 L726.71,630.17 L728.7,634.42 L730.36,638.79 L731.67,643.26 L732.63,647.81 L733.21,652.41 L733.4,657.05" fill="none" stroke="#111" stroke-width="1.6"/>
<path d="M537.5,232 L538,575 L538,575 L538.41,576.46 L539.64,577.91 L541.67,579.33 L544.48,580.69 L548.05,582 L552.32,583.23 L557.26,584.37 L562.82,585.4 L568.92,586.33 L575.5,587.12 L582.49,587.79 L589.82,588.31 L597.41,588.69 L605.16,588.92 L613,589 L620.84,588.92 L628.59,588.69 L636.18,588.31 L643.51,587.79 L650.5,587.12 L657.08,586.33 L663.18,585.4 L668.74,584.37 L673.68,583.23 L677.95,582 L681.52,580.69 L684.33,579.33 L686.36,577.91 L687.59,576.46 L688,575 L688,575 L689,232" fill="#fff" stroke="#161616" stroke-width="1.55" stroke-linejoin="round" stroke-linecap="round" />
<path d="M537,413 C537.25,415.83 536.67,424.67 538.5,430 C540.33,435.33 543.08,440.83 548,445 C552.92,449.17 559.67,452.25 568,455 C576.33,457.75 588,460.25 598,461.5 C608,462.75 618.5,463.25 628,462.5 C637.5,461.75 647.17,459.58 655,457 C662.83,454.42 669.83,450.5 675,447 C680.17,443.5 683.5,438.83 686,436 C688.5,433.17 689.33,431 690,430" fill="none" stroke="#161616" stroke-width="1.49" stroke-linejoin="round" stroke-linecap="round" />
<path d="M700.6,657.05 L700.57,658.15 L700.49,659.24 L700.36,660.34 L700.17,661.45 L699.92,662.56 L699.61,663.69 L699.24,664.83 L698.81,665.98 L729.25,678.19 L730.2,675.65 L731.04,673.07 L731.75,670.45 L732.34,667.81 L732.8,665.14 L733.13,662.45 L733.33,659.76 L733.4,657.05 Z" fill="#fff" stroke="none"/><path d="M700.6,657.05 L700.57,658.15 L700.49,659.24 L700.36,660.34 L700.17,661.45 L699.92,662.56 L699.61,663.69 L699.24,664.83 L698.81,665.98 M733.4,657.05 L733.33,659.76 L733.13,662.45 L732.8,665.14 L732.34,667.81 L731.75,670.45 L731.04,673.07 L730.2,675.65 L729.25,678.19" fill="none" stroke="#111" stroke-width="1.6"/>
<path d="M700.6,577.25 L700.52,579.13 L700.28,581.02 L699.88,582.92 L699.3,584.86 L698.53,586.84 L697.57,588.87 L696.39,590.93 L695,593.03 L693.37,595.17 L691.51,597.32 L689.42,599.47 L687.09,601.62 L684.53,603.75 L681.75,605.85 L678.74,607.91 L675.53,609.91 L672.11,611.85 L668.5,613.72 L664.72,615.51 L660.77,617.21 L656.67,618.81 L652.43,620.32 L648.07,621.72 L643.59,623 L639.03,624.18 L634.38,625.23 L629.67,626.17 L624.9,626.98 L620.11,627.67 L615.3,628.24 L610.48,628.68 L605.68,629 L600.91,629.19 L596.18,629.26 L591.51,629.21 L586.92,629.04 L582.42,628.75 L578.03,628.36 L573.76,627.85 L569.63,627.24 L565.65,626.54 L561.83,625.74 L558.21,624.86 L554.77,623.9 L551.55,622.87 L548.56,621.79 L545.8,620.67 L543.3,619.52 L541.07,618.36 L539.12,617.21 L537.45,616.1 L536.08,615.04 L535,614.09 L534.21,613.27 L533.7,612.63 L533.41,612.2 L533.31,612 L533.33,612.04 L533.37,612.28 L533.4,612.65 L500.6,612.65 L500.9,616.88 L501.77,620.99 L503.15,624.88 L504.96,628.51 L507.12,631.85 L509.57,634.92 L512.28,637.75 L515.21,640.35 L518.35,642.76 L521.68,644.99 L525.2,647.06 L528.89,648.99 L532.77,650.77 L536.81,652.42 L541.03,653.94 L545.4,655.33 L549.93,656.59 L554.61,657.73 L559.43,658.74 L564.37,659.62 L569.44,660.36 L574.62,660.98 L579.91,661.46 L585.28,661.8 L590.73,662 L596.24,662.06 L601.81,661.98 L607.42,661.75 L613.05,661.38 L618.7,660.86 L624.36,660.2 L630,659.38 L635.62,658.42 L641.2,657.31 L646.74,656.06 L652.21,654.65 L657.61,653.1 L662.92,651.4 L668.13,649.55 L673.23,647.55 L678.21,645.41 L683.05,643.12 L687.75,640.68 L692.3,638.1 L696.68,635.37 L700.88,632.49 L704.9,629.47 L708.71,626.29 L712.31,622.96 L715.69,619.48 L718.83,615.85 L721.71,612.06 L724.32,608.13 L726.64,604.05 L728.65,599.83 L730.33,595.48 L731.66,591.03 L732.62,586.49 L733.21,581.88 L733.4,577.25 Z" fill="#fff" stroke="none"/><path d="M700.6,577.25 L700.52,579.13 L700.28,581.02 L699.88,582.92 L699.3,584.86 L698.53,586.84 L697.57,588.87 L696.39,590.93 L695,593.03 L693.37,595.17 L691.51,597.32 L689.42,599.47 L687.09,601.62 L684.53,603.75 L681.75,605.85 L678.74,607.91 L675.53,609.91 L672.11,611.85 L668.5,613.72 L664.72,615.51 L660.77,617.21 L656.67,618.81 L652.43,620.32 L648.07,621.72 L643.59,623 L639.03,624.18 L634.38,625.23 L629.67,626.17 L624.9,626.98 L620.11,627.67 L615.3,628.24 L610.48,628.68 L605.68,629 L600.91,629.19 L596.18,629.26 L591.51,629.21 L586.92,629.04 L582.42,628.75 L578.03,628.36 L573.76,627.85 L569.63,627.24 L565.65,626.54 L561.83,625.74 L558.21,624.86 L554.77,623.9 L551.55,622.87 L548.56,621.79 L545.8,620.67 L543.3,619.52 L541.07,618.36 L539.12,617.21 L537.45,616.1 L536.08,615.04 L535,614.09 L534.21,613.27 L533.7,612.63 L533.41,612.2 L533.31,612 L533.33,612.04 L533.37,612.28 L533.4,612.65 M733.4,577.25 L733.21,581.88 L732.62,586.49 L731.66,591.03 L730.33,595.48 L728.65,599.83 L726.64,604.05 L724.32,608.13 L721.71,612.06 L718.83,615.85 L715.69,619.48 L712.31,622.96 L708.71,626.29 L704.9,629.47 L700.88,632.49 L696.68,635.37 L692.3,638.1 L687.75,640.68 L683.05,643.12 L678.21,645.41 L673.23,647.55 L668.13,649.55 L662.92,651.4 L657.61,653.1 L652.21,654.65 L646.74,656.06 L641.2,657.31 L635.62,658.42 L630,659.38 L624.36,660.2 L618.7,660.86 L613.05,661.38 L607.42,661.75 L601.81,661.98 L596.24,662.06 L590.73,662 L585.28,661.8 L579.91,661.46 L574.62,660.98 L569.44,660.36 L564.37,659.62 L559.43,658.74 L554.61,657.73 L549.93,656.59 L545.4,655.33 L541.03,653.94 L536.81,652.42 L532.77,650.77 L528.89,648.99 L525.2,647.06 L521.68,644.99 L518.35,642.76 L515.21,640.35 L512.28,637.75 L509.57,634.92 L507.12,631.85 L504.96,628.51 L503.15,624.88 L501.77,620.99 L500.9,616.88 L500.6,612.65" fill="none" stroke="#111" stroke-width="1.6"/>
<path d="M700.6,497.45 L700.52,499.33 L700.28,501.22 L699.88,503.12 L699.3,505.06 L698.53,507.04 L697.57,509.07 L696.39,511.13 L695,513.23 L693.37,515.37 L691.51,517.52 L689.42,519.67 L687.09,521.82 L684.53,523.95 L681.75,526.05 L678.74,528.11 L675.53,530.11 L672.11,532.05 L668.5,533.92 L664.72,535.71 L660.77,537.41 L656.67,539.01 L652.43,540.52 L648.07,541.92 L643.59,543.2 L639.03,544.38 L634.38,545.43 L629.67,546.37 L624.9,547.18 L620.11,547.87 L615.3,548.44 L610.48,548.88 L605.68,549.2 L600.91,549.39 L596.18,549.46 L591.51,549.41 L586.92,549.24 L582.42,548.95 L578.03,548.56 L573.76,548.05 L569.63,547.44 L565.65,546.74 L561.83,545.94 L558.21,545.06 L554.77,544.1 L551.55,543.07 L548.56,541.99 L545.8,540.87 L543.3,539.72 L541.07,538.56 L539.12,537.41 L537.45,536.3 L536.08,535.24 L535,534.29 L534.21,533.47 L533.7,532.83 L533.41,532.4 L533.31,532.2 L533.33,532.24 L533.37,532.48 L533.4,532.85 L500.6,532.85 L500.9,537.08 L501.77,541.19 L503.15,545.08 L504.96,548.71 L507.12,552.05 L509.57,555.12 L512.28,557.95 L515.21,560.55 L518.35,562.96 L521.68,565.19 L525.2,567.26 L528.89,569.19 L532.77,570.97 L536.81,572.62 L541.03,574.14 L545.4,575.53 L549.93,576.79 L554.61,577.93 L559.43,578.94 L564.37,579.82 L569.44,580.56 L574.62,581.18 L579.91,581.66 L585.28,582 L590.73,582.2 L596.24,582.26 L601.81,582.18 L607.42,581.95 L613.05,581.58 L618.7,581.06 L624.36,580.4 L630,579.58 L635.62,578.62 L641.2,577.51 L646.74,576.26 L652.21,574.85 L657.61,573.3 L662.92,571.6 L668.13,569.75 L673.23,567.75 L678.21,565.61 L683.05,563.32 L687.75,560.88 L692.3,558.3 L696.68,555.57 L700.88,552.69 L704.9,549.67 L708.71,546.49 L712.31,543.16 L715.69,539.68 L718.83,536.05 L721.71,532.26 L724.32,528.33 L726.64,524.25 L728.65,520.03 L730.33,515.68 L731.66,511.23 L732.62,506.69 L733.21,502.08 L733.4,497.45 Z" fill="#fff" stroke="none"/><path d="M700.6,497.45 L700.52,499.33 L700.28,501.22 L699.88,503.12 L699.3,505.06 L698.53,507.04 L697.57,509.07 L696.39,511.13 L695,513.23 L693.37,515.37 L691.51,517.52 L689.42,519.67 L687.09,521.82 L684.53,523.95 L681.75,526.05 L678.74,528.11 L675.53,530.11 L672.11,532.05 L668.5,533.92 L664.72,535.71 L660.77,537.41 L656.67,539.01 L652.43,540.52 L648.07,541.92 L643.59,543.2 L639.03,544.38 L634.38,545.43 L629.67,546.37 L624.9,547.18 L620.11,547.87 L615.3,548.44 L610.48,548.88 L605.68,549.2 L600.91,549.39 L596.18,549.46 L591.51,549.41 L586.92,549.24 L582.42,548.95 L578.03,548.56 L573.76,548.05 L569.63,547.44 L565.65,546.74 L561.83,545.94 L558.21,545.06 L554.77,544.1 L551.55,543.07 L548.56,541.99 L545.8,540.87 L543.3,539.72 L541.07,538.56 L539.12,537.41 L537.45,536.3 L536.08,535.24 L535,534.29 L534.21,533.47 L533.7,532.83 L533.41,532.4 L533.31,532.2 L533.33,532.24 L533.37,532.48 L533.4,532.85 M733.4,497.45 L733.21,502.08 L732.62,506.69 L731.66,511.23 L730.33,515.68 L728.65,520.03 L726.64,524.25 L724.32,528.33 L721.71,532.26 L718.83,536.05 L715.69,539.68 L712.31,543.16 L708.71,546.49 L704.9,549.67 L700.88,552.69 L696.68,555.57 L692.3,558.3 L687.75,560.88 L683.05,563.32 L678.21,565.61 L673.23,567.75 L668.13,569.75 L662.92,571.6 L657.61,573.3 L652.21,574.85 L646.74,576.26 L641.2,577.51 L635.62,578.62 L630,579.58 L624.36,580.4 L618.7,581.06 L613.05,581.58 L607.42,581.95 L601.81,582.18 L596.24,582.26 L590.73,582.2 L585.28,582 L579.91,581.66 L574.62,581.18 L569.44,580.56 L564.37,579.82 L559.43,578.94 L554.61,577.93 L549.93,576.79 L545.4,575.53 L541.03,574.14 L536.81,572.62 L532.77,570.97 L528.89,569.19 L525.2,567.26 L521.68,565.19 L518.35,562.96 L515.21,560.55 L512.28,557.95 L509.57,555.12 L507.12,552.05 L504.96,548.71 L503.15,545.08 L501.77,541.19 L500.9,537.08 L500.6,532.85" fill="none" stroke="#111" stroke-width="1.6"/>
<path d="M700.6,417.65 L700.52,419.53 L700.28,421.42 L699.88,423.32 L699.3,425.26 L698.53,427.24 L697.57,429.27 L696.39,431.33 L695,433.43 L693.37,435.57 L691.51,437.72 L689.42,439.87 L687.09,442.02 L684.53,444.15 L681.75,446.25 L678.74,448.31 L675.53,450.31 L672.11,452.25 L668.5,454.12 L664.72,455.91 L660.77,457.61 L656.67,459.21 L652.43,460.72 L648.07,462.12 L643.59,463.4 L639.03,464.58 L634.38,465.63 L629.67,466.57 L624.9,467.38 L620.11,468.07 L615.3,468.64 L610.48,469.08 L605.68,469.4 L600.91,469.59 L596.18,469.66 L591.51,469.61 L586.92,469.44 L582.42,469.15 L578.03,468.76 L573.76,468.25 L569.63,467.64 L565.65,466.94 L561.83,466.14 L558.21,465.26 L554.77,464.3 L551.55,463.27 L548.56,462.19 L545.8,461.07 L543.3,459.92 L541.07,458.76 L539.12,457.61 L537.45,456.5 L536.08,455.44 L535,454.49 L534.21,453.67 L533.7,453.03 L533.41,452.6 L533.31,452.4 L533.33,452.44 L533.37,452.68 L533.4,453.05 L500.6,453.05 L500.9,457.28 L501.77,461.39 L503.15,465.28 L504.96,468.91 L507.12,472.25 L509.57,475.32 L512.28,478.15 L515.21,480.75 L518.35,483.16 L521.68,485.39 L525.2,487.46 L528.89,489.39 L532.77,491.17 L536.81,492.82 L541.03,494.34 L545.4,495.73 L549.93,496.99 L554.61,498.13 L559.43,499.14 L564.37,500.02 L569.44,500.76 L574.62,501.38 L579.91,501.86 L585.28,502.2 L590.73,502.4 L596.24,502.46 L601.81,502.38 L607.42,502.15 L613.05,501.78 L618.7,501.26 L624.36,500.6 L630,499.78 L635.62,498.82 L641.2,497.71 L646.74,496.46 L652.21,495.05 L657.61,493.5 L662.92,491.8 L668.13,489.95 L673.23,487.95 L678.21,485.81 L683.05,483.52 L687.75,481.08 L692.3,478.5 L696.68,475.77 L700.88,472.89 L704.9,469.87 L708.71,466.69 L712.31,463.36 L715.69,459.88 L718.83,456.25 L721.71,452.46 L724.32,448.53 L726.64,444.45 L728.65,440.23 L730.33,435.88 L731.66,431.43 L732.62,426.89 L733.21,422.28 L733.4,417.65 Z" fill="#fff" stroke="none"/><path d="M700.6,417.65 L700.52,419.53 L700.28,421.42 L699.88,423.32 L699.3,425.26 L698.53,427.24 L697.57,429.27 L696.39,431.33 L695,433.43 L693.37,435.57 L691.51,437.72 L689.42,439.87 L687.09,442.02 L684.53,444.15 L681.75,446.25 L678.74,448.31 L675.53,450.31 L672.11,452.25 L668.5,454.12 L664.72,455.91 L660.77,457.61 L656.67,459.21 L652.43,460.72 L648.07,462.12 L643.59,463.4 L639.03,464.58 L634.38,465.63 L629.67,466.57 L624.9,467.38 L620.11,468.07 L615.3,468.64 L610.48,469.08 L605.68,469.4 L600.91,469.59 L596.18,469.66 L591.51,469.61 L586.92,469.44 L582.42,469.15 L578.03,468.76 L573.76,468.25 L569.63,467.64 L565.65,466.94 L561.83,466.14 L558.21,465.26 L554.77,464.3 L551.55,463.27 L548.56,462.19 L545.8,461.07 L543.3,459.92 L541.07,458.76 L539.12,457.61 L537.45,456.5 L536.08,455.44 L535,454.49 L534.21,453.67 L533.7,453.03 L533.41,452.6 L533.31,452.4 L533.33,452.44 L533.37,452.68 L533.4,453.05 M733.4,417.65 L733.21,422.28 L732.62,426.89 L731.66,431.43 L730.33,435.88 L728.65,440.23 L726.64,444.45 L724.32,448.53 L721.71,452.46 L718.83,456.25 L715.69,459.88 L712.31,463.36 L708.71,466.69 L704.9,469.87 L700.88,472.89 L696.68,475.77 L692.3,478.5 L687.75,481.08 L683.05,483.52 L678.21,485.81 L673.23,487.95 L668.13,489.95 L662.92,491.8 L657.61,493.5 L652.21,495.05 L646.74,496.46 L641.2,497.71 L635.62,498.82 L630,499.78 L624.36,500.6 L618.7,501.26 L613.05,501.78 L607.42,502.15 L601.81,502.38 L596.24,502.46 L590.73,502.4 L585.28,502.2 L579.91,501.86 L574.62,501.38 L569.44,500.76 L564.37,500.02 L559.43,499.14 L554.61,498.13 L549.93,496.99 L545.4,495.73 L541.03,494.34 L536.81,492.82 L532.77,491.17 L528.89,489.39 L525.2,487.46 L521.68,485.39 L518.35,483.16 L515.21,480.75 L512.28,478.15 L509.57,475.32 L507.12,472.25 L504.96,468.91 L503.15,465.28 L501.77,461.39 L500.9,457.28 L500.6,453.05" fill="none" stroke="#111" stroke-width="1.6"/>
<path d="M700.6,337.85 L700.52,339.73 L700.28,341.62 L699.88,343.52 L699.3,345.46 L698.53,347.44 L697.57,349.47 L696.39,351.53 L695,353.63 L693.37,355.77 L691.51,357.92 L689.42,360.07 L687.09,362.22 L684.53,364.35 L681.75,366.45 L678.74,368.51 L675.53,370.51 L672.11,372.45 L668.5,374.32 L664.72,376.11 L660.77,377.81 L656.67,379.41 L652.43,380.92 L648.07,382.32 L643.59,383.6 L639.03,384.78 L634.38,385.83 L629.67,386.77 L624.9,387.58 L620.11,388.27 L615.3,388.84 L610.48,389.28 L605.68,389.6 L600.91,389.79 L596.18,389.86 L591.51,389.81 L586.92,389.64 L582.42,389.35 L578.03,388.96 L573.76,388.45 L569.63,387.84 L565.65,387.14 L561.83,386.34 L558.21,385.46 L554.77,384.5 L551.55,383.47 L548.56,382.39 L545.8,381.27 L543.3,380.12 L541.07,378.96 L539.12,377.81 L537.45,376.7 L536.08,375.64 L535,374.69 L534.21,373.87 L533.7,373.23 L533.41,372.8 L533.31,372.6 L533.33,372.64 L533.37,372.88 L533.4,373.25 L500.6,373.25 L500.9,377.48 L501.77,381.59 L503.15,385.48 L504.96,389.11 L507.12,392.45 L509.57,395.52 L512.28,398.35 L515.21,400.95 L518.35,403.36 L521.68,405.59 L525.2,407.66 L528.89,409.59 L532.77,411.37 L536.81,413.02 L541.03,414.54 L545.4,415.93 L549.93,417.19 L554.61,418.33 L559.43,419.34 L564.37,420.22 L569.44,420.96 L574.62,421.58 L579.91,422.06 L585.28,422.4 L590.73,422.6 L596.24,422.66 L601.81,422.58 L607.42,422.35 L613.05,421.98 L618.7,421.46 L624.36,420.8 L630,419.98 L635.62,419.02 L641.2,417.91 L646.74,416.66 L652.21,415.25 L657.61,413.7 L662.92,412 L668.13,410.15 L673.23,408.15 L678.21,406.01 L683.05,403.72 L687.75,401.28 L692.3,398.7 L696.68,395.97 L700.88,393.09 L704.9,390.07 L708.71,386.89 L712.31,383.56 L715.69,380.08 L718.83,376.45 L721.71,372.66 L724.32,368.73 L726.64,364.65 L728.65,360.43 L730.33,356.08 L731.66,351.63 L732.62,347.09 L733.21,342.48 L733.4,337.85 Z" fill="#fff" stroke="none"/><path d="M700.6,337.85 L700.52,339.73 L700.28,341.62 L699.88,343.52 L699.3,345.46 L698.53,347.44 L697.57,349.47 L696.39,351.53 L695,353.63 L693.37,355.77 L691.51,357.92 L689.42,360.07 L687.09,362.22 L684.53,364.35 L681.75,366.45 L678.74,368.51 L675.53,370.51 L672.11,372.45 L668.5,374.32 L664.72,376.11 L660.77,377.81 L656.67,379.41 L652.43,380.92 L648.07,382.32 L643.59,383.6 L639.03,384.78 L634.38,385.83 L629.67,386.77 L624.9,387.58 L620.11,388.27 L615.3,388.84 L610.48,389.28 L605.68,389.6 L600.91,389.79 L596.18,389.86 L591.51,389.81 L586.92,389.64 L582.42,389.35 L578.03,388.96 L573.76,388.45 L569.63,387.84 L565.65,387.14 L561.83,386.34 L558.21,385.46 L554.77,384.5 L551.55,383.47 L548.56,382.39 L545.8,381.27 L543.3,380.12 L541.07,378.96 L539.12,377.81 L537.45,376.7 L536.08,375.64 L535,374.69 L534.21,373.87 L533.7,373.23 L533.41,372.8 L533.31,372.6 L533.33,372.64 L533.37,372.88 L533.4,373.25 M733.4,337.85 L733.21,342.48 L732.62,347.09 L731.66,351.63 L730.33,356.08 L728.65,360.43 L726.64,364.65 L724.32,368.73 L721.71,372.66 L718.83,376.45 L715.69,380.08 L712.31,383.56 L708.71,386.89 L704.9,390.07 L700.88,393.09 L696.68,395.97 L692.3,398.7 L687.75,401.28 L683.05,403.72 L678.21,406.01 L673.23,408.15 L668.13,410.15 L662.92,412 L657.61,413.7 L652.21,415.25 L646.74,416.66 L641.2,417.91 L635.62,419.02 L630,419.98 L624.36,420.8 L618.7,421.46 L613.05,421.98 L607.42,422.35 L601.81,422.58 L596.24,422.66 L590.73,422.6 L585.28,422.4 L579.91,422.06 L574.62,421.58 L569.44,420.96 L564.37,420.22 L559.43,419.34 L554.61,418.33 L549.93,417.19 L545.4,415.93 L541.03,414.54 L536.81,413.02 L532.77,411.37 L528.89,409.59 L525.2,407.66 L521.68,405.59 L518.35,403.36 L515.21,400.95 L512.28,398.35 L509.57,395.52 L507.12,392.45 L504.96,389.11 L503.15,385.48 L501.77,381.59 L500.9,377.48 L500.6,373.25" fill="none" stroke="#111" stroke-width="1.6"/>
<path d="M534.71,294.6 L534.11,293.95 L533.7,293.43 L533.45,293.05 L533.33,292.84 L533.31,292.79 L533.34,292.9 L533.38,293.14 L533.4,293.45 L500.6,293.45 L500.81,296.98 L501.42,300.44 L502.4,303.77 L503.71,306.92 L505.29,309.88 L507.12,312.65 L509.15,315.23 L511.35,317.63 Z" fill="#fff" stroke="none"/><path d="M534.71,294.6 L534.11,293.95 L533.7,293.43 L533.45,293.05 L533.33,292.84 L533.31,292.79 L533.34,292.9 L533.38,293.14 L533.4,293.45 M511.35,317.63 L509.15,315.23 L507.12,312.65 L505.29,309.88 L503.71,306.92 L502.4,303.77 L501.42,300.44 L500.81,296.98 L500.6,293.45" fill="none" stroke="#111" stroke-width="1.6"/>
<path d="M733.46,311.96 L733.31,315.11 L732.71,318.25 L731.65,321.38 L730.14,324.49 L728.19,327.56 L725.8,330.58 L722.98,333.53 L719.75,336.42 L716.11,339.22 L712.08,341.92 L707.68,344.52 L702.93,347 L697.83,349.36 L692.42,351.58 L686.72,353.65 L680.74,355.57 L674.51,357.34 L668.06,358.93 L661.4,360.36 L654.58,361.6 L647.61,362.66 L640.51,363.53 L633.33,364.21 L626.09,364.69 L618.81,364.98 L611.53,365.07 L604.26,364.97 L597.06,364.67 L589.93,364.17 L582.91,363.47 L576.03,362.59 L569.31,361.52 L562.78,360.26 L556.47,358.83 L550.4,357.22 L544.59,355.45 L539.07,353.51 L533.86,351.43 L528.99,349.2 L524.46,346.84 L520.29,344.35 L516.51,341.74 L513.13,339.03 L510.16,336.22 L507.62,333.33 L505.51,330.37 L503.84,327.35 L502.62,324.28 L501.85,321.17 L501.54,318.04 L501.54,304.04 L501.69,300.89 L502.29,297.75 L503.35,294.62 L504.86,291.51 L506.81,288.44 L509.2,285.42 L512.02,282.47 L515.25,279.58 L518.89,276.78 L522.92,274.08 L527.32,271.48 L532.07,269 L537.17,266.64 L542.58,264.42 L548.28,262.35 L554.26,260.43 L560.49,258.66 L566.94,257.07 L573.6,255.64 L580.42,254.4 L587.39,253.34 L594.49,252.47 L601.67,251.79 L608.91,251.31 L616.19,251.02 L623.47,250.93 L630.74,251.03 L637.94,251.33 L645.07,251.83 L652.09,252.53 L658.97,253.41 L665.69,254.48 L672.22,255.74 L678.53,257.17 L684.6,258.78 L690.41,260.55 L695.93,262.49 L701.14,264.57 L706.01,266.8 L710.54,269.16 L714.71,271.65 L718.49,274.26 L721.87,276.97 L724.84,279.78 L727.38,282.67 L729.49,285.63 L731.16,288.65 L732.38,291.72 L733.15,294.83 L733.46,297.96 Z" fill="#fff" stroke="#161616" stroke-width="1.55" stroke-linejoin="round" stroke-linecap="round" />
<path d="M733.46,297.96 L733.21,301.89 L732.24,305.82 L730.56,309.72 L728.19,313.56 L725.13,317.32 L721.42,320.99 L717.06,324.53 L712.08,327.92 L706.53,331.15 L700.42,334.2 L693.81,337.04 L686.72,339.65 L679.21,342.03 L671.31,344.16 L663.09,346.02 L654.58,347.6 L645.84,348.89 L636.93,349.89 L627.9,350.59 L618.81,350.98 L609.71,351.07 L600.65,350.84 L591.7,350.31 L582.91,349.47 L574.33,348.34 L566.02,346.91 L558.03,345.2 L550.4,343.22 L543.19,340.98 L536.43,338.49 L530.17,335.77 L524.46,332.84 L519.31,329.71 L514.77,326.4 L510.87,322.93 L507.62,319.33 L505.05,315.62 L503.17,311.82 L502,307.95 L501.54,304.04" fill="none" stroke="#161616" stroke-width="1.55" stroke-linejoin="round" stroke-linecap="round" />
<path d="M724.44,301.29 L723.92,304.9 L722.76,308.5 L720.97,312.07 L718.56,315.57 L715.54,319 L711.93,322.34 L707.76,325.55 L703.04,328.63 L697.8,331.56 L692.08,334.32 L685.9,336.88 L679.31,339.25 L672.35,341.4 L665.05,343.32 L657.46,344.99 L649.62,346.42 L641.58,347.59 L633.39,348.49 L625.09,349.13 L616.73,349.48 L608.37,349.56 L600.05,349.37 L591.82,348.89 L583.73,348.15 L575.82,347.13 L568.15,345.85 L560.76,344.32 L553.7,342.54 L546.99,340.52 L540.69,338.28 L534.83,335.83 L529.45,333.18 L524.58,330.35 L520.24,327.36 L516.46,324.22 L513.26,320.95 L510.67,317.57 L508.7,314.11 L507.35,310.57 L506.65,306.99" fill="none" stroke="#161616" stroke-width="1.15" stroke-linejoin="round" stroke-linecap="round" />
<path d="M720,302 L719.85,304.36 L719.42,306.7 L718.69,309.04 L717.67,311.36 L716.37,313.65 L714.79,315.91 L712.93,318.13 L710.79,320.3 L708.39,322.43 L705.73,324.5 L702.82,326.51 L699.66,328.45 L696.27,330.32 L692.64,332.11 L688.81,333.82 L684.76,335.44 L680.52,336.97 L676.1,338.41 L671.5,339.74 L666.75,340.97 L661.85,342.1 L656.82,343.11 L651.67,344.01 L646.41,344.8 L641.06,345.47 L635.64,346.02 L630.16,346.45 L624.63,346.75 L619.07,346.94 L613.5,347 L607.93,346.94 L602.37,346.75 L596.84,346.45 L591.36,346.02 L585.94,345.47 L580.59,344.8 L575.33,344.01 L570.18,343.11 L565.15,342.1 L560.25,340.97 L555.5,339.74 L550.9,338.41 L546.48,336.97 L542.24,335.44 L538.19,333.82 L534.36,332.11 L530.73,330.32 L527.34,328.45 L524.18,326.51 L521.27,324.5 L518.61,322.43 L516.21,320.3 L514.07,318.13 L512.21,315.91 L510.63,313.65 L509.33,311.36 L508.31,309.04 L507.58,306.7 L507.15,304.36 L507,302 L506.5,302 L506.5,283 L506.5,254 L507,252 L507.15,249.64 L507.58,247.3 L508.31,244.96 L509.33,242.64 L510.63,240.35 L512.21,238.09 L514.07,235.87 L516.21,233.7 L518.61,231.57 L521.27,229.5 L524.18,227.49 L527.34,225.55 L530.73,223.68 L534.36,221.89 L538.19,220.18 L542.24,218.56 L546.48,217.03 L550.9,215.59 L555.5,214.26 L560.25,213.03 L565.15,211.9 L570.18,210.89 L575.33,209.99 L580.59,209.2 L585.94,208.53 L591.36,207.98 L596.84,207.55 L602.37,207.25 L607.93,207.06 L613.5,207 L619.07,207.06 L624.63,207.25 L630.16,207.55 L635.64,207.98 L641.06,208.53 L646.41,209.2 L651.67,209.99 L656.82,210.89 L661.85,211.9 L666.75,213.03 L671.5,214.26 L676.1,215.59 L680.52,217.03 L684.76,218.56 L688.81,220.18 L692.64,221.89 L696.27,223.68 L699.66,225.55 L702.82,227.49 L705.73,229.5 L708.39,231.57 L710.79,233.7 L712.93,235.87 L714.79,238.09 L716.37,240.35 L717.67,242.64 L718.69,244.96 L719.42,247.3 L719.85,249.64 L720,252 L720,254 L720,283 Z" fill="#fff" stroke="#161616" stroke-width="1.49" stroke-linejoin="round" stroke-linecap="round" />
<path d="M528,226.5 L528,232.5 L519.5,235.5 L519.5,241" fill="none" stroke="#161616" stroke-width="1.26" stroke-linejoin="round" stroke-linecap="round" />
<path d="M698,227 L698,233 L707,236 L707,242" fill="none" stroke="#161616" stroke-width="1.26" stroke-linejoin="round" stroke-linecap="round" />
<path d="M506.5,255.5 L515,255.5 L515,264 L506.5,264" fill="#fff" stroke="#161616" stroke-width="1.26" stroke-linejoin="round" stroke-linecap="round" />
<path d="M720,255.5 L711,255.5 L711,264.5 L720,264.5" fill="#fff" stroke="#161616" stroke-width="1.26" stroke-linejoin="round" stroke-linecap="round" />
<path d="M720,268 L719.67,271.53 L718.69,275.04 L717.06,278.51 L714.79,281.91 L711.89,285.22 L708.39,288.43 L704.31,291.51 L699.66,294.45 L694.48,297.23 L688.81,299.82 L682.67,302.22 L676.1,304.41 L669.15,306.37 L661.85,308.1 L654.26,309.57 L646.41,310.8 L638.36,311.76 L630.16,312.45 L621.86,312.86 L613.5,313 L605.14,312.86 L596.84,312.45 L588.64,311.76 L580.59,310.8 L572.74,309.57 L565.15,308.1 L557.85,306.37 L550.9,304.41 L544.33,302.22 L538.19,299.82 L532.52,297.23 L527.34,294.45 L522.69,291.51 L518.61,288.43 L515.11,285.22 L512.21,281.91 L509.94,278.51 L508.31,275.04 L507.33,271.53 L507,268" fill="none" stroke="#161616" stroke-width="1.38" stroke-linejoin="round" stroke-linecap="round" />
<path d="M720,282 L719.67,285.53 L718.69,289.04 L717.06,292.51 L714.79,295.91 L711.89,299.22 L708.39,302.43 L704.31,305.51 L699.66,308.45 L694.48,311.23 L688.81,313.82 L682.67,316.22 L676.1,318.41 L669.15,320.37 L661.85,322.1 L654.26,323.57 L646.41,324.8 L638.36,325.76 L630.16,326.45 L621.86,326.86 L613.5,327 L605.14,326.86 L596.84,326.45 L588.64,325.76 L580.59,324.8 L572.74,323.57 L565.15,322.1 L557.85,320.37 L550.9,318.41 L544.33,316.22 L538.19,313.82 L532.52,311.23 L527.34,308.45 L522.69,305.51 L518.61,302.43 L515.11,299.22 L512.21,295.91 L509.94,292.51 L508.31,289.04 L507.33,285.53 L507,282" fill="none" stroke="#161616" stroke-width="2.30" stroke-linejoin="round" stroke-linecap="round" />
<path d="M719.24,290.74 L718.39,294.1 L716.95,297.42 L714.92,300.68 L712.33,303.87 L709.17,306.97 L705.48,309.96 L701.27,312.83 L696.57,315.55 L691.4,318.12 L685.79,320.51 L679.78,322.72 L673.39,324.73 L666.66,326.53 L659.63,328.11 L652.35,329.47 L644.85,330.59 L637.16,331.46 L629.35,332.09 L621.45,332.47 L613.5,332.6 L605.55,332.47 L597.65,332.09 L589.84,331.46 L582.15,330.59 L574.65,329.47 L567.37,328.11 L560.34,326.53 L553.61,324.73 L547.22,322.72 L541.21,320.51 L535.6,318.12 L530.43,315.55 L525.73,312.83 L521.52,309.96 L517.83,306.97 L514.67,303.87 L512.08,300.68 L510.05,297.42 L508.61,294.1 L507.76,290.74" fill="none" stroke="#161616" stroke-width="1.15" stroke-linejoin="round" stroke-linecap="round" />
<path d="M516.5,320.58 L516.5,285.49 L526,285.49 L526,327.65 Z" fill="#fff" stroke="none" stroke-width="1.55" stroke-linejoin="round" stroke-linecap="round" />
<path d="M516.5,320.58 L516.5,285.49 L526,285.49 L526,327.65" fill="none" stroke="#161616" stroke-width="1.38" stroke-linejoin="round" stroke-linecap="round" />
<path d="M518.7,286.99 L518.7,319.58" fill="none" stroke="#161616" stroke-width="0.92" stroke-linejoin="round" stroke-linecap="round" />

<path d="M516.5,301.99 L526,301.99" fill="none" stroke="#161616" stroke-width="2.30" stroke-linejoin="round" stroke-linecap="round" />
<path d="M516.5,320.49 L526,320.49" fill="none" stroke="#161616" stroke-width="1.84" stroke-linejoin="round" stroke-linecap="round" />
<path d="M553,339.03 L553,301.97 L567.5,301.97 L567.5,342.59 Z" fill="#fff" stroke="none" stroke-width="1.55" stroke-linejoin="round" stroke-linecap="round" />
<path d="M553,339.03 L553,301.97 L567.5,301.97 L567.5,342.59" fill="none" stroke="#161616" stroke-width="1.38" stroke-linejoin="round" stroke-linecap="round" />
<path d="M555.2,303.47 L555.2,338.03" fill="none" stroke="#161616" stroke-width="0.92" stroke-linejoin="round" stroke-linecap="round" />

<path d="M553,318.47 L567.5,318.47" fill="none" stroke="#161616" stroke-width="2.30" stroke-linejoin="round" stroke-linecap="round" />
<path d="M553,336.97 L567.5,336.97" fill="none" stroke="#161616" stroke-width="1.84" stroke-linejoin="round" stroke-linecap="round" />
<path d="M604.5,346.84 L604.5,308 L622,308 L622,346.86 Z" fill="#fff" stroke="none" stroke-width="1.55" stroke-linejoin="round" stroke-linecap="round" />
<path d="M604.5,346.84 L604.5,308 L622,308 L622,346.86" fill="none" stroke="#161616" stroke-width="1.38" stroke-linejoin="round" stroke-linecap="round" />


<path d="M604.5,324.5 L622,324.5" fill="none" stroke="#161616" stroke-width="2.30" stroke-linejoin="round" stroke-linecap="round" />
<path d="M604.5,343 L622,343" fill="none" stroke="#161616" stroke-width="1.84" stroke-linejoin="round" stroke-linecap="round" />
<path d="M657,343.08 L657,302.68 L670.5,302.68 L670.5,340.01 Z" fill="#fff" stroke="none" stroke-width="1.55" stroke-linejoin="round" stroke-linecap="round" />
<path d="M657,343.08 L657,302.68 L670.5,302.68 L670.5,340.01" fill="none" stroke="#161616" stroke-width="1.38" stroke-linejoin="round" stroke-linecap="round" />

<path d="M668.3,304.18 L668.3,339.01" fill="none" stroke="#161616" stroke-width="0.92" stroke-linejoin="round" stroke-linecap="round" />
<path d="M657,319.18 L670.5,319.18" fill="none" stroke="#161616" stroke-width="2.30" stroke-linejoin="round" stroke-linecap="round" />
<path d="M657,337.68 L670.5,337.68" fill="none" stroke="#161616" stroke-width="1.84" stroke-linejoin="round" stroke-linecap="round" />
<path d="M697,329.93 L697,287.87 L707.5,287.87 L707.5,323.15 Z" fill="#fff" stroke="none" stroke-width="1.55" stroke-linejoin="round" stroke-linecap="round" />
<path d="M697,329.93 L697,287.87 L707.5,287.87 L707.5,323.15" fill="none" stroke="#161616" stroke-width="1.38" stroke-linejoin="round" stroke-linecap="round" />

<path d="M705.3,289.37 L705.3,322.15" fill="none" stroke="#161616" stroke-width="0.92" stroke-linejoin="round" stroke-linecap="round" />
<path d="M697,304.37 L707.5,304.37" fill="none" stroke="#161616" stroke-width="2.30" stroke-linejoin="round" stroke-linecap="round" />
<path d="M697,322.87 L707.5,322.87" fill="none" stroke="#161616" stroke-width="1.84" stroke-linejoin="round" stroke-linecap="round" />
<path d="M537.5,238 L537.5,271 L537.73,273.04 L538.44,275.07 L539.6,277.07 L541.22,279.03 L543.29,280.95 L545.78,282.8 L548.7,284.58 L552.01,286.28 L555.71,287.89 L559.76,289.38 L564.14,290.77 L568.83,292.03 L573.79,293.17 L579,294.17 L584.42,295.02 L590.01,295.73 L595.76,296.28 L601.61,296.68 L607.54,296.92 L613.5,297 L619.46,296.92 L625.39,296.68 L631.24,296.28 L636.99,295.73 L642.58,295.02 L648,294.17 L653.21,293.17 L658.17,292.03 L662.86,290.77 L667.24,289.38 L671.29,287.89 L674.99,286.28 L678.3,284.58 L681.22,282.8 L683.71,280.95 L685.78,279.03 L687.4,277.07 L688.56,275.07 L689.27,273.04 L689.5,271 L689.5,238" fill="#fff" stroke="#161616" stroke-width="1.55" stroke-linejoin="round" stroke-linecap="round" />
<path d="M689.5,239 L689.27,240.96 L688.56,242.91 L687.4,244.84 L685.78,246.73 L683.71,248.57 L681.22,250.35 L678.3,252.06 L674.99,253.69 L671.29,255.24 L667.24,256.68 L662.86,258.01 L658.17,259.23 L653.21,260.32 L648,261.28 L642.58,262.1 L636.99,262.78 L631.24,263.31 L625.39,263.69 L619.46,263.92 L613.5,264 L607.54,263.92 L601.61,263.69 L595.76,263.31 L590.01,262.78 L584.42,262.1 L579,261.28 L573.79,260.32 L568.83,259.23 L564.14,258.01 L559.76,256.68 L555.71,255.24 L552.01,253.69 L548.7,252.06 L545.78,250.35 L543.29,248.57 L541.22,246.73 L539.6,244.84 L538.44,242.91 L537.73,240.96 L537.5,239" fill="none" stroke="#161616" stroke-width="1.61" stroke-linejoin="round" stroke-linecap="round" />
<path d="M689.5,245.5 L689.27,247.42 L688.56,249.33 L687.4,251.22 L685.78,253.07 L683.71,254.88 L681.22,256.62 L678.3,258.3 L674.99,259.9 L671.29,261.41 L667.24,262.82 L662.86,264.13 L658.17,265.32 L653.21,266.39 L648,267.33 L642.58,268.14 L636.99,268.8 L631.24,269.32 L625.39,269.7 L619.46,269.92 L613.5,270 L607.54,269.92 L601.61,269.7 L595.76,269.32 L590.01,268.8 L584.42,268.14 L579,267.33 L573.79,266.39 L568.83,265.32 L564.14,264.13 L559.76,262.82 L555.71,261.41 L552.01,259.9 L548.7,258.3 L545.78,256.62 L543.29,254.88 L541.22,253.07 L539.6,251.22 L538.44,249.33 L537.73,247.42 L537.5,245.5" fill="none" stroke="#161616" stroke-width="1.26" stroke-linejoin="round" stroke-linecap="round" />
<path d="M689.5,253 L689.27,254.88 L688.56,256.75 L687.4,258.6 L685.78,260.42 L683.71,262.18 L681.22,263.9 L678.3,265.54 L674.99,267.11 L671.29,268.59 L667.24,269.97 L662.86,271.25 L658.17,272.42 L653.21,273.46 L648,274.38 L642.58,275.17 L636.99,275.83 L631.24,276.34 L625.39,276.7 L619.46,276.93 L613.5,277 L607.54,276.93 L601.61,276.7 L595.76,276.34 L590.01,275.83 L584.42,275.17 L579,274.38 L573.79,273.46 L568.83,272.42 L564.14,271.25 L559.76,269.97 L555.71,268.59 L552.01,267.11 L548.7,265.54 L545.78,263.9 L543.29,262.18 L541.22,260.42 L539.6,258.6 L538.44,256.75 L537.73,254.88 L537.5,253" fill="none" stroke="#161616" stroke-width="1.26" stroke-linejoin="round" stroke-linecap="round" />
<path d="M689.5,260 L689.27,261.96 L688.56,263.91 L687.4,265.84 L685.78,267.73 L683.71,269.57 L681.22,271.35 L678.3,273.06 L674.99,274.69 L671.29,276.24 L667.24,277.68 L662.86,279.01 L658.17,280.23 L653.21,281.32 L648,282.28 L642.58,283.1 L636.99,283.78 L631.24,284.31 L625.39,284.69 L619.46,284.92 L613.5,285 L607.54,284.92 L601.61,284.69 L595.76,284.31 L590.01,283.78 L584.42,283.1 L579,282.28 L573.79,281.32 L568.83,280.23 L564.14,279.01 L559.76,277.68 L555.71,276.24 L552.01,274.69 L548.7,273.06 L545.78,271.35 L543.29,269.57 L541.22,267.73 L539.6,265.84 L538.44,263.91 L537.73,261.96 L537.5,260" fill="none" stroke="#161616" stroke-width="1.49" stroke-linejoin="round" stroke-linecap="round" />
<path d="M689.5,271 L689.27,273.04 L688.56,275.07 L687.4,277.07 L685.78,279.03 L683.71,280.95 L681.22,282.8 L678.3,284.58 L674.99,286.28 L671.29,287.89 L667.24,289.38 L662.86,290.77 L658.17,292.03 L653.21,293.17 L648,294.17 L642.58,295.02 L636.99,295.73 L631.24,296.28 L625.39,296.68 L619.46,296.92 L613.5,297 L607.54,296.92 L601.61,296.68 L595.76,296.28 L590.01,295.73 L584.42,295.02 L579,294.17 L573.79,293.17 L568.83,292.03 L564.14,290.77 L559.76,289.38 L555.71,287.89 L552.01,286.28 L548.7,284.58 L545.78,282.8 L543.29,280.95 L541.22,279.03 L539.6,277.07 L538.44,275.07 L537.73,273.04 L537.5,271" fill="none" stroke="#161616" stroke-width="1.61" stroke-linejoin="round" stroke-linecap="round" />
<path d="M536.5,188 L536.5,239 L536.74,240.96 L537.44,242.91 L538.61,244.84 L540.24,246.73 L542.32,248.57 L544.84,250.35 L547.77,252.06 L551.11,253.69 L554.83,255.24 L558.91,256.68 L563.32,258.01 L568.03,259.23 L573.03,260.32 L578.27,261.28 L583.72,262.1 L589.36,262.78 L595.14,263.31 L601.03,263.69 L607,263.92 L613,264 L619,263.92 L624.97,263.69 L630.86,263.31 L636.64,262.78 L642.28,262.1 L647.73,261.28 L652.97,260.32 L657.97,259.23 L662.68,258.01 L667.09,256.68 L671.17,255.24 L674.89,253.69 L678.23,252.06 L681.16,250.35 L683.68,248.57 L685.76,246.73 L687.39,244.84 L688.56,242.91 L689.26,240.96 L689.5,239 L689.5,188" fill="#fff" stroke="#161616" stroke-width="1.55" stroke-linejoin="round" stroke-linecap="round" />
<path d="M536.5,196 C536.55,192.67 536.18,182.17 536.8,176 C537.42,169.83 538.5,164.93 540.2,159 C541.9,153.07 544.45,145.77 547,140.4 C549.55,135.03 552.23,129.92 555.5,126.8 C558.77,123.68 564.6,126.17 566.6,121.7 C568.6,117.23 567.27,111.28 567.5,100 C567.73,88.72 567.25,63.33 568,54 C568.75,44.67 570,46.67 572,44 C574,41.33 575.33,40 580,38 C584.67,36 591.67,33.67 600,32 C608.33,30.33 621.33,26.67 630,28 C638.67,29.33 647.5,33.67 652,40 C656.5,46.33 655.92,54.33 657,66 C658.08,77.67 658.12,100.72 658.5,110 C658.88,119.28 657.22,118.33 659.3,121.7 C661.38,125.07 667.6,126.82 671,130.2 C674.4,133.58 677.12,136.62 679.7,142 C682.28,147.38 684.95,156.83 686.5,162.5 C688.05,168.17 688.45,170.42 689,176 C689.55,181.58 689.67,192.67 689.8,196" fill="#fff" stroke="#161616" stroke-width="1.55" stroke-linejoin="round" stroke-linecap="round" />
<path d="M536.5,196 L536.8,176 L540.2,159 L547,140.4 L555.5,126.8 L566.6,121.7 L567.5,100 L568,54 L572,44 L580,38 L600,32 L630,28 L652,40 L657,66 L658.5,110 L659.3,121.7 L671,130.2 L679.7,142 L686.5,162.5 L689,176 L689.8,196 Z" fill="#fff" stroke="none" stroke-width="1.55" stroke-linejoin="round" stroke-linecap="round" />
<path d="M536.5,196 C536.55,192.67 536.18,182.17 536.8,176 C537.42,169.83 538.5,164.93 540.2,159 C541.9,153.07 544.45,145.77 547,140.4 C549.55,135.03 552.23,129.92 555.5,126.8 C558.77,123.68 564.6,126.17 566.6,121.7 C568.6,117.23 567.27,111.28 567.5,100 C567.73,88.72 567.25,63.33 568,54 C568.75,44.67 570,46.67 572,44 C574,41.33 575.33,40 580,38 C584.67,36 591.67,33.67 600,32 C608.33,30.33 621.33,26.67 630,28 C638.67,29.33 647.5,33.67 652,40 C656.5,46.33 655.92,54.33 657,66 C658.08,77.67 658.12,100.72 658.5,110 C658.88,119.28 657.22,118.33 659.3,121.7 C661.38,125.07 667.6,126.82 671,130.2 C674.4,133.58 677.12,136.62 679.7,142 C682.28,147.38 684.95,156.83 686.5,162.5 C688.05,168.17 688.45,170.42 689,176 C689.55,181.58 689.67,192.67 689.8,196" fill="none" stroke="#161616" stroke-width="1.55" stroke-linejoin="round" stroke-linecap="round" />
<path d="M689.5,186.5 L689.26,189.01 L688.56,191.51 L687.39,193.97 L685.76,196.39 L683.68,198.75 L681.16,201.03 L678.23,203.22 L674.89,205.31 L671.17,207.28 L667.09,209.13 L662.68,210.83 L657.97,212.39 L652.97,213.78 L647.73,215.01 L642.28,216.06 L636.64,216.93 L630.86,217.62 L624.97,218.11 L619,218.4 L613,218.5 L607,218.4 L601.03,218.11 L595.14,217.62 L589.36,216.93 L583.72,216.06 L578.27,215.01 L573.03,213.78 L568.03,212.39 L563.32,210.83 L558.91,209.13 L554.83,207.28 L551.11,205.31 L547.77,203.22 L544.84,201.03 L542.32,198.75 L540.24,196.39 L538.61,193.97 L537.44,191.51 L536.74,189.01 L536.5,186.5" fill="none" stroke="#161616" stroke-width="1.38" stroke-linejoin="round" stroke-linecap="round" />
<path d="M689.5,191.5 L689.26,193.85 L688.56,196.19 L687.39,198.5 L685.76,200.77 L683.68,202.98 L681.16,205.12 L678.23,207.17 L674.89,209.13 L671.17,210.98 L667.09,212.71 L662.68,214.31 L657.97,215.77 L652.97,217.08 L647.73,218.23 L642.28,219.22 L636.64,220.03 L630.86,220.67 L624.97,221.13 L619,221.41 L613,221.5 L607,221.41 L601.03,221.13 L595.14,220.67 L589.36,220.03 L583.72,219.22 L578.27,218.23 L573.03,217.08 L568.03,215.77 L563.32,214.31 L558.91,212.71 L554.83,210.98 L551.11,209.13 L547.77,207.17 L544.84,205.12 L542.32,202.98 L540.24,200.77 L538.61,198.5 L537.44,196.19 L536.74,193.85 L536.5,191.5" fill="none" stroke="#161616" stroke-width="1.38" stroke-linejoin="round" stroke-linecap="round" />
<path d="M658.5,123.4 C659.75,124.17 664,125.9 666,128 C668,130.1 669.67,132.83 670.5,136 C671.33,139.17 671.75,144 671,147 C670.25,150 667.95,153.4 666,154 C664.05,154.6 660.88,152.93 659.3,150.6 C657.72,148.27 656.97,141.77 656.5,140" fill="none" stroke="#161616" stroke-width="1.38" stroke-linejoin="round" stroke-linecap="round" />
<path d="M553.8,133.6 C554.08,135.67 553.8,141.47 555.5,146 C557.2,150.53 558.33,156.63 564,160.8 C569.67,164.97 581.57,169.22 589.5,171 C597.43,172.78 607.92,171.42 611.6,171.5" fill="none" stroke="#161616" stroke-width="1.38" stroke-linejoin="round" stroke-linecap="round" />
<path d="M622,176.5 L632,174.4" fill="none" stroke="#161616" stroke-width="1.15" stroke-linejoin="round" stroke-linecap="round" />
<path d="M564,133.6 L610,162.5" fill="none" stroke="#161616" stroke-width="1.15" stroke-linejoin="round" stroke-linecap="round" />
<path d="M570.8,128.5 L608,159" fill="none" stroke="#161616" stroke-width="1.15" stroke-linejoin="round" stroke-linecap="round" />
<path d="M610,62 C610.05,68.33 610.22,87 610.3,100 C610.38,113 610.38,128.17 610.5,140 C610.62,151.83 610.92,165.83 611,171" fill="none" stroke="#161616" stroke-width="1.26" stroke-linejoin="round" stroke-linecap="round" />
<path d="M618.5,62 C618.52,70 618.52,93.67 618.6,110 C618.68,126.33 618.43,148.92 619,160 C619.57,171.08 621.5,173.75 622,176.5" fill="none" stroke="#161616" stroke-width="1.26" stroke-linejoin="round" stroke-linecap="round" />
<path d="M649,60 C649.33,65 650.33,80 651,90 C651.67,100 652.2,112.17 653,120 C653.8,127.83 655.33,134.17 655.8,137" fill="none" stroke="#161616" stroke-width="1.26" stroke-linejoin="round" stroke-linecap="round" />
<ellipse cx="590" cy="85" rx="20" ry="38" fill="none" stroke="#161616" stroke-width="1.38" transform="rotate(-15 590 85)"/>
<ellipse cx="592.5" cy="84.5" rx="15.5" ry="31" fill="none" stroke="#161616" stroke-width="1.15" transform="rotate(-15 592.5 84.5)"/>
<path d="M625.5,178 L626,220" fill="none" stroke="#161616" stroke-width="1.15" stroke-linejoin="round" stroke-linecap="round" />
<ellipse cx="595.5" cy="83.5" rx="13.5" ry="26.5" fill="#fff" stroke="#161616" stroke-width="1.49" transform="rotate(-15 595.5 83.5)"/>
<ellipse cx="595.5" cy="84" rx="11.6" ry="23.2" fill="none" stroke="#161616" stroke-width="2.99" transform="rotate(-15 595.5 84)"/>
<ellipse cx="595.5" cy="84.2" rx="10.2" ry="21" fill="none" stroke="#161616" stroke-width="1.15" transform="rotate(-15 595.5 84.2)"/>
<ellipse cx="649" cy="193" rx="23" ry="23.5" fill="#fff" stroke="#161616" stroke-width="2.07"/>
<path d="M645.44,214.17 L644.04,213.86 L642.67,213.45 L641.32,212.93 L640.01,212.32 L638.75,211.62 L637.54,210.82 L636.38,209.94 L635.28,208.98 L634.25,207.94 L633.3,206.82 L632.42,205.64 L631.62,204.39 L630.9,203.09 L630.27,201.74 L629.74,200.35 L629.29,198.93 L628.95,197.47 L628.7,195.99 L628.55,194.5 L628.5,193 L628.55,191.5 L628.7,190.01 L628.95,188.53 L629.29,187.07 L629.74,185.65 L630.27,184.26 L630.9,182.91 L631.62,181.61 L632.42,180.36 L633.3,179.18 L634.25,178.06 L635.28,177.02 L636.38,176.06 L637.54,175.18 L638.75,174.38 L640.01,173.68 L641.32,173.07 L642.67,172.55 L644.04,172.14 L645.44,171.83" fill="none" stroke="#161616" stroke-width="1.15" stroke-linejoin="round" stroke-linecap="round" />
<path d="M644.21,212.32 L643.05,211.94 L641.92,211.48 L640.82,210.94 L639.75,210.32 L638.72,209.63 L637.74,208.87 L636.8,208.04 L635.92,207.14 L635.09,206.19 L634.32,205.18 L633.62,204.11 L632.98,203 L632.41,201.85 L631.91,200.65 L631.48,199.43 L631.13,198.18 L630.86,196.9 L630.66,195.61 L630.54,194.31 L630.5,193 L630.54,191.69 L630.66,190.39 L630.86,189.1 L631.13,187.82 L631.48,186.57 L631.91,185.35 L632.41,184.15 L632.98,183 L633.62,181.89 L634.32,180.82 L635.09,179.81 L635.92,178.86 L636.8,177.96 L637.74,177.13 L638.72,176.37 L639.75,175.68 L640.82,175.06 L641.92,174.52 L643.05,174.06 L644.21,173.68" fill="none" stroke="#161616" stroke-width="1.15" stroke-linejoin="round" stroke-linecap="round" />
<path d="M634,194.5 L643,178.5 L663,178.5 L672,196 L663,213.5 L643,213.5 Z" fill="#fff" stroke="#161616" stroke-width="1.84" stroke-linejoin="round" stroke-linecap="round" />
<path d="M637,194.5 L645,180 L645.5,212" fill="none" stroke="#161616" stroke-width="1.15" stroke-linejoin="round" stroke-linecap="round" />
<ellipse cx="655.3" cy="196.4" rx="11.2" ry="12.0" fill="none" stroke="#161616" stroke-width="2.30"/>
<path d="M656.3,191.1 L658,194.16 L661.5,194.1 L659.7,197.1 L661.5,200.1 L658,200.04 L656.3,203.1 L654.6,200.04 L651.1,200.1 L652.9,197.1 L651.1,194.1 L654.6,194.16 Z" fill="none" stroke="#161616" stroke-width="1.49" stroke-linejoin="round" stroke-linecap="round" />
<ellipse cx="656.3" cy="197.1" rx="1.8" ry="1.8" fill="#333" stroke="#161616" stroke-width="0.57"/>
</g>
<use href="#mecaG" transform="translate(1.8,3.6)" fill="#111" stroke="#111" stroke-width="8.6" stroke-linejoin="round"/>
<use href="#mecaG" fill="#111" stroke="#111" stroke-width="8.2" stroke-linejoin="round"/>
<use href="#mecaG" fill="#fff" stroke="#fff" stroke-width="5.4" stroke-linejoin="round"/>
<use href="#mecaG" fill="#e3141b" stroke="#e3141b" stroke-width="2.4" stroke-linejoin="round"/>
<g font-family="Liberation Sans, sans-serif" font-weight="bold" font-style="italic" font-size="11.5" fill="#dc1a20" stroke="#3a0a0a" stroke-width="1.3" paint-order="stroke" stroke-linejoin="round"><text x="680.5" y="29.4" textLength="50" lengthAdjust="spacingAndGlyphs">www</text><text x="732" y="29.6" font-size="9">.</text><text x="947" y="30" textLength="44" lengthAdjust="spacingAndGlyphs">.com</text></g>
<g stroke="#111" fill="none">
<rect x="225.5" y="114.2" width="276.5" height="102.3" fill="#fff" stroke-width="1.9"/>
<polyline points="359,217.5 359,300.4 509,300.4" stroke-width="3.7" stroke-linejoin="miter"/>
<circle cx="509.4" cy="300.2" r="7.6" fill="#000" stroke="none"/>
<rect x="225.2" y="627.2" width="292.8" height="59" fill="#fff" stroke-width="1.9"/>
<polyline points="358.8,688.3 358.8,763.6 573,763.6" stroke-width="3.7" stroke-linejoin="miter"/>
<circle cx="573.4" cy="763.6" r="7.8" fill="#000" stroke="none"/>
</g>
<g font-family="Liberation Sans, sans-serif" font-style="italic" fill="#1a1a1a" font-size="31" letter-spacing="0.5" stroke="#fff" stroke-width="0.5">
<text x="239" y="148">Spring Preload</text>
<text x="240" y="194">Adjuster</text>
<text x="239" y="662">Rebound Adjuster</text>
</g>
<rect x="16.5" y="181.5" width="309" height="116" rx="12" fill="#1a63b3"/>
<rect x="23.2" y="187.6" width="295.6" height="103.8" rx="8" fill="none" stroke="#ebb448" stroke-width="4.4"/>
<path d="M53.9,212.8 L77.8,212.8 L86.2,221.2 L86.2,267.6 L77.8,276 L53.9,276 L45.5,267.6 L45.5,221.2 Z M59.6,261.6 L72.6,261.6 L72.6,227.2 L59.6,227.2 Z M48.4,196 L62.2,196 L62.2,207.4 L48.4,207.4 Z M69.4,196 L82.6,196 L82.6,207.4 L69.4,207.4 Z M94.4,212.6 L108.6,212.6 L108.6,237.2 L122,237.2 L122,212.6 L136.6,212.6 L136.6,275.6 L122,275.6 L122,247.4 L108.6,247.4 L108.6,275.6 L94.4,275.6 Z M144.4,212.6 L158.8,212.6 L158.8,261.8 L174.4,261.8 L174.4,275.6 L144.4,275.6 Z M182.2,212.6 L197.8,212.6 L197.8,275.6 L182.2,275.6 Z M205.2,211.21 L225.61,211.21 L234.62,247.82 L234.62,211.21 L249.62,211.21 L249.62,277.83 L229.81,277.83 L220.81,237.02 L220.81,277.83 L205.2,277.83 Z M264.03,211.21 L291.04,211.21 L299.44,219.61 L299.44,231.01 L286.24,231.01 L286.24,226.81 L271.83,226.81 L271.83,236.42 L291.04,236.42 L299.44,244.82 L299.44,269.43 L291.04,277.83 L264.03,277.83 L255.62,269.43 L255.62,255.02 L271.83,255.02 L271.83,260.43 L285.04,260.43 L285.04,251.42 L264.03,251.42 L255.62,243.02 L255.62,219.61 Z" fill="none" stroke="#cfc7a0" stroke-width="5.0" stroke-linejoin="miter" fill-rule="evenodd"/>
<path d="M53.9,212.8 L77.8,212.8 L86.2,221.2 L86.2,267.6 L77.8,276 L53.9,276 L45.5,267.6 L45.5,221.2 Z M59.6,261.6 L72.6,261.6 L72.6,227.2 L59.6,227.2 Z M48.4,196 L62.2,196 L62.2,207.4 L48.4,207.4 Z M69.4,196 L82.6,196 L82.6,207.4 L69.4,207.4 Z M94.4,212.6 L108.6,212.6 L108.6,237.2 L122,237.2 L122,212.6 L136.6,212.6 L136.6,275.6 L122,275.6 L122,247.4 L108.6,247.4 L108.6,275.6 L94.4,275.6 Z M144.4,212.6 L158.8,212.6 L158.8,261.8 L174.4,261.8 L174.4,275.6 L144.4,275.6 Z M182.2,212.6 L197.8,212.6 L197.8,275.6 L182.2,275.6 Z M205.2,211.21 L225.61,211.21 L234.62,247.82 L234.62,211.21 L249.62,211.21 L249.62,277.83 L229.81,277.83 L220.81,237.02 L220.81,277.83 L205.2,277.83 Z M264.03,211.21 L291.04,211.21 L299.44,219.61 L299.44,231.01 L286.24,231.01 L286.24,226.81 L271.83,226.81 L271.83,236.42 L291.04,236.42 L299.44,244.82 L299.44,269.43 L291.04,277.83 L264.03,277.83 L255.62,269.43 L255.62,255.02 L271.83,255.02 L271.83,260.43 L285.04,260.43 L285.04,251.42 L264.03,251.42 L255.62,243.02 L255.62,219.61 Z" fill="#f5ae1e" stroke="#5c5830" stroke-width="1.9" stroke-linejoin="miter" fill-rule="evenodd"/>
<circle cx="301.8" cy="209.6" r="4.9" fill="none" stroke="#cfc7a0" stroke-width="1.3"/>
<text x="301.8" y="212.6" font-family="Liberation Sans, sans-serif" font-weight="bold" font-size="7.5" fill="#cfc7a0" text-anchor="middle">R</text>
<text x="18.8" y="314.2" font-family="Liberation Sans, sans-serif" font-size="14.6" fill="#e9a835" stroke="#e9a835" stroke-width="0.55" textLength="304" lengthAdjust="spacing" xml:space="preserve">ADVANCED  SUSPENSION  TECHNOLOGY</text>
<defs><filter id="wmf" x="-5%" y="-30%" width="110%" height="160%" color-interpolation-filters="sRGB"><feMorphology in="SourceAlpha" operator="dilate" radius="1.25 3.0" result="d1"/><feMorphology in="SourceAlpha" operator="dilate" radius="0.6 1.5" result="d0"/><feComposite in="d1" in2="d0" operator="out" result="ring"/><feFlood flood-color="#000" flood-opacity="0.115"/><feComposite in2="ring" operator="in"/></filter></defs><rect x="0" y="445.5" width="1000" height="109" fill="#000" fill-opacity="0.014"/><path d="M5.5,467.5 L20.9,449.9 L85.8,449.9 L92.4,455.4 L91.3,464.2 L70.4,510.4 L123.2,464.2 L136.4,460.9 L149.6,464.2 L151.8,473 L132,512.6 L176,479.6 L187,476.3 L198,480.7 L199,490.6 L176,539 L220,539 L222,546 L213,550 L154,550 L145,543.4 L162.8,503.8 L103.4,549 L90,549 L87,536.8 L107.8,492.8 L55,545.6 L44,550 L19.8,550 L56.1,467.5 Z" fill="none" stroke="#000" stroke-opacity="0.115" stroke-width="1.6" stroke-linejoin="round"/><g transform="translate(208,549) skewX(-10) scale(2.3,1)" filter="url(#wmf)"><text x="0" y="0" font-family="Liberation Sans, sans-serif" font-weight="bold" font-style="italic" font-size="88" letter-spacing="1.8">ecadata</text></g>
</svg>
</body></html>
